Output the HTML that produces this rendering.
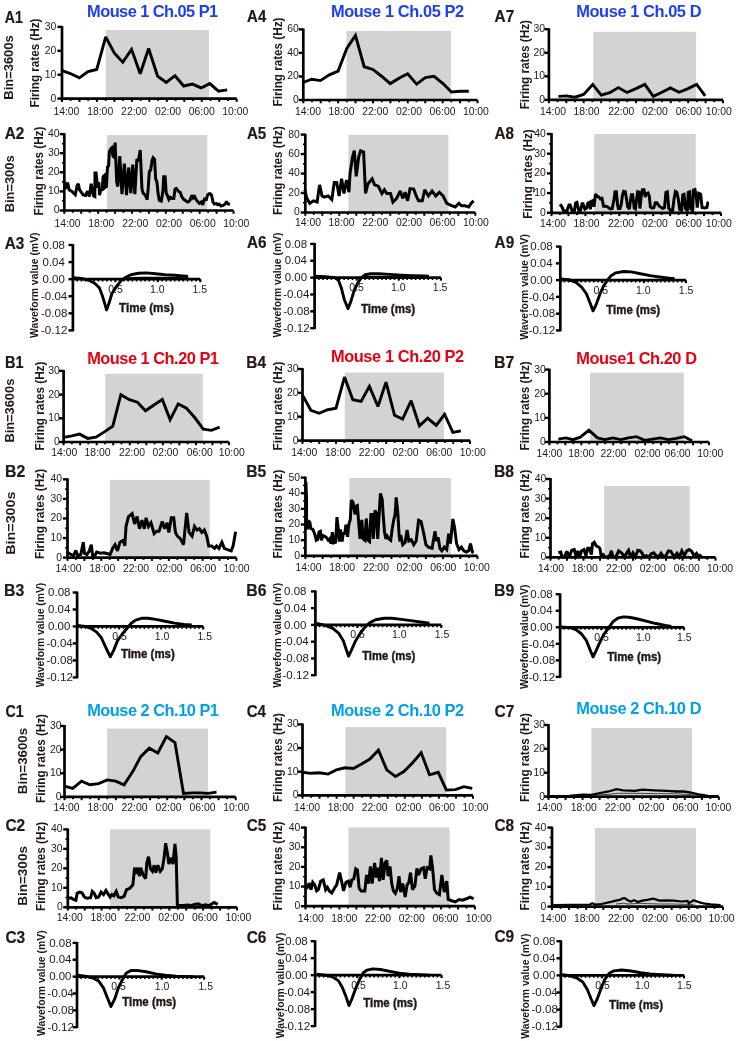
<!DOCTYPE html>
<html><head><meta charset="utf-8"><style>
html,body{margin:0;padding:0;background:#fff;font-family:'Liberation Sans',sans-serif;}
svg{display:block;will-change:transform;}
text{font-family:'Liberation Sans',sans-serif}
</style></head><body>
<svg width="736" height="1041" viewBox="0 0 736 1041">
<rect width="736" height="1041" fill="#fff"/>
<rect x="105.70" y="30.00" width="103.30" height="68.60" fill="#d3d3d3"/>
<line x1="62.00" y1="98.60" x2="62.00" y2="101.90" stroke="#000" stroke-width="2.00"/>
<line x1="70.73" y1="98.60" x2="70.73" y2="100.90" stroke="#000" stroke-width="1.90"/>
<line x1="79.47" y1="98.60" x2="79.47" y2="101.90" stroke="#000" stroke-width="2.00"/>
<line x1="88.20" y1="98.60" x2="88.20" y2="100.90" stroke="#000" stroke-width="1.90"/>
<line x1="96.94" y1="98.60" x2="96.94" y2="101.90" stroke="#000" stroke-width="2.00"/>
<line x1="105.67" y1="98.60" x2="105.67" y2="100.90" stroke="#000" stroke-width="1.90"/>
<line x1="114.41" y1="98.60" x2="114.41" y2="101.90" stroke="#000" stroke-width="2.00"/>
<line x1="123.14" y1="98.60" x2="123.14" y2="100.90" stroke="#000" stroke-width="1.90"/>
<line x1="131.88" y1="98.60" x2="131.88" y2="101.90" stroke="#000" stroke-width="2.00"/>
<line x1="140.62" y1="98.60" x2="140.62" y2="100.90" stroke="#000" stroke-width="1.90"/>
<line x1="149.35" y1="98.60" x2="149.35" y2="101.90" stroke="#000" stroke-width="2.00"/>
<line x1="158.08" y1="98.60" x2="158.08" y2="100.90" stroke="#000" stroke-width="1.90"/>
<line x1="166.82" y1="98.60" x2="166.82" y2="101.90" stroke="#000" stroke-width="2.00"/>
<line x1="175.56" y1="98.60" x2="175.56" y2="100.90" stroke="#000" stroke-width="1.90"/>
<line x1="184.29" y1="98.60" x2="184.29" y2="101.90" stroke="#000" stroke-width="2.00"/>
<line x1="193.03" y1="98.60" x2="193.03" y2="100.90" stroke="#000" stroke-width="1.90"/>
<line x1="201.76" y1="98.60" x2="201.76" y2="101.90" stroke="#000" stroke-width="2.00"/>
<line x1="210.49" y1="98.60" x2="210.49" y2="100.90" stroke="#000" stroke-width="1.90"/>
<line x1="219.23" y1="98.60" x2="219.23" y2="101.90" stroke="#000" stroke-width="2.00"/>
<line x1="227.96" y1="98.60" x2="227.96" y2="100.90" stroke="#000" stroke-width="1.90"/>
<line x1="236.70" y1="98.60" x2="236.70" y2="101.90" stroke="#000" stroke-width="2.00"/>
<line x1="57.40" y1="98.60" x2="62.00" y2="98.60" stroke="#000" stroke-width="2.40"/>
<text x="50.50" y="101.50" font-size="10.40"  fill="#231815">0</text>
<line x1="57.40" y1="74.70" x2="62.00" y2="74.70" stroke="#000" stroke-width="2.40"/>
<text x="44.70" y="77.60" font-size="10.40"  fill="#231815">10</text>
<line x1="57.40" y1="50.80" x2="62.00" y2="50.80" stroke="#000" stroke-width="2.40"/>
<text x="44.70" y="53.70" font-size="10.40"  fill="#231815">20</text>
<line x1="57.40" y1="26.90" x2="62.00" y2="26.90" stroke="#000" stroke-width="2.40"/>
<text x="44.70" y="29.80" font-size="10.40"  fill="#231815">30</text>
<line x1="62.00" y1="26.00" x2="62.00" y2="99.80" stroke="#000" stroke-width="2.70"/>
<line x1="60.80" y1="98.60" x2="236.70" y2="98.60" stroke="#000" stroke-width="2.70"/>
<text x="53.40" y="114.60" font-size="10.40"  fill="#231815">14:00</text>
<text x="87.18" y="114.60" font-size="10.40"  fill="#231815">18:00</text>
<text x="121.11" y="114.60" font-size="10.40"  fill="#231815">22:00</text>
<text x="154.94" y="114.60" font-size="10.40"  fill="#231815">02:00</text>
<text x="188.72" y="114.60" font-size="10.40"  fill="#231815">06:00</text>
<text x="222.30" y="114.60" font-size="10.40"  fill="#231815">10:00</text>
<polyline points="61.41,70.27 70.38,73.53 79.35,77.88 88.04,71.63 96.74,69.46 105.71,36.85 114.40,53.15 122.83,62.12 131.52,49.35 140.22,73.80 148.64,48.53 157.61,76.25 166.30,82.50 175.00,75.71 183.70,86.03 192.39,84.13 201.09,87.93 209.78,83.59 218.48,91.20 227.17,89.84" fill="none" stroke="#000" stroke-width="2.90" stroke-linejoin="miter" stroke-linecap="butt" stroke-miterlimit="2.5"/>
<text transform="translate(38.90 107.38) rotate(-90)" x="0" y="0" font-size="11.90" font-weight="bold" fill="#231815" textLength="88.75" lengthAdjust="spacingAndGlyphs">Firing rates (Hz)</text>
<rect x="346.50" y="30.90" width="104.50" height="69.10" fill="#d3d3d3"/>
<line x1="303.30" y1="100.00" x2="303.30" y2="103.30" stroke="#000" stroke-width="2.00"/>
<line x1="312.01" y1="100.00" x2="312.01" y2="102.30" stroke="#000" stroke-width="1.90"/>
<line x1="320.72" y1="100.00" x2="320.72" y2="103.30" stroke="#000" stroke-width="2.00"/>
<line x1="329.43" y1="100.00" x2="329.43" y2="102.30" stroke="#000" stroke-width="1.90"/>
<line x1="338.14" y1="100.00" x2="338.14" y2="103.30" stroke="#000" stroke-width="2.00"/>
<line x1="346.85" y1="100.00" x2="346.85" y2="102.30" stroke="#000" stroke-width="1.90"/>
<line x1="355.56" y1="100.00" x2="355.56" y2="103.30" stroke="#000" stroke-width="2.00"/>
<line x1="364.27" y1="100.00" x2="364.27" y2="102.30" stroke="#000" stroke-width="1.90"/>
<line x1="372.98" y1="100.00" x2="372.98" y2="103.30" stroke="#000" stroke-width="2.00"/>
<line x1="381.69" y1="100.00" x2="381.69" y2="102.30" stroke="#000" stroke-width="1.90"/>
<line x1="390.40" y1="100.00" x2="390.40" y2="103.30" stroke="#000" stroke-width="2.00"/>
<line x1="399.11" y1="100.00" x2="399.11" y2="102.30" stroke="#000" stroke-width="1.90"/>
<line x1="407.82" y1="100.00" x2="407.82" y2="103.30" stroke="#000" stroke-width="2.00"/>
<line x1="416.53" y1="100.00" x2="416.53" y2="102.30" stroke="#000" stroke-width="1.90"/>
<line x1="425.24" y1="100.00" x2="425.24" y2="103.30" stroke="#000" stroke-width="2.00"/>
<line x1="433.95" y1="100.00" x2="433.95" y2="102.30" stroke="#000" stroke-width="1.90"/>
<line x1="442.66" y1="100.00" x2="442.66" y2="103.30" stroke="#000" stroke-width="2.00"/>
<line x1="451.37" y1="100.00" x2="451.37" y2="102.30" stroke="#000" stroke-width="1.90"/>
<line x1="460.08" y1="100.00" x2="460.08" y2="103.30" stroke="#000" stroke-width="2.00"/>
<line x1="468.79" y1="100.00" x2="468.79" y2="102.30" stroke="#000" stroke-width="1.90"/>
<line x1="477.50" y1="100.00" x2="477.50" y2="103.30" stroke="#000" stroke-width="2.00"/>
<line x1="298.70" y1="100.00" x2="303.30" y2="100.00" stroke="#000" stroke-width="2.40"/>
<text x="293.10" y="102.90" font-size="10.40"  fill="#231815">0</text>
<line x1="298.70" y1="76.47" x2="303.30" y2="76.47" stroke="#000" stroke-width="2.40"/>
<text x="287.30" y="79.37" font-size="10.40"  fill="#231815">20</text>
<line x1="298.70" y1="52.93" x2="303.30" y2="52.93" stroke="#000" stroke-width="2.40"/>
<text x="287.30" y="55.83" font-size="10.40"  fill="#231815">40</text>
<line x1="298.70" y1="29.40" x2="303.30" y2="29.40" stroke="#000" stroke-width="2.40"/>
<text x="287.30" y="32.30" font-size="10.40"  fill="#231815">60</text>
<line x1="303.30" y1="28.50" x2="303.30" y2="101.20" stroke="#000" stroke-width="2.70"/>
<line x1="302.10" y1="100.00" x2="477.50" y2="100.00" stroke="#000" stroke-width="2.70"/>
<text x="295.00" y="114.60" font-size="10.40"  fill="#231815">14:00</text>
<text x="328.58" y="114.60" font-size="10.40"  fill="#231815">18:00</text>
<text x="362.31" y="114.60" font-size="10.40"  fill="#231815">22:00</text>
<text x="395.94" y="114.60" font-size="10.40"  fill="#231815">02:00</text>
<text x="429.52" y="114.60" font-size="10.40"  fill="#231815">06:00</text>
<text x="462.90" y="114.60" font-size="10.40"  fill="#231815">10:00</text>
<polyline points="303.04,82.50 311.74,79.24 320.43,80.60 329.40,74.89 338.10,71.09 346.79,48.53 355.49,35.49 364.18,66.74 372.88,69.46 381.58,76.25 390.27,83.59 398.97,78.15 407.66,73.80 416.63,84.13 425.33,77.61 434.02,76.25 442.72,83.32 451.41,92.01 460.11,91.20 468.80,91.20" fill="none" stroke="#000" stroke-width="2.90" stroke-linejoin="miter" stroke-linecap="butt" stroke-miterlimit="2.5"/>
<text transform="translate(281.80 106.48) rotate(-90)" x="0" y="0" font-size="11.90" font-weight="bold" fill="#231815" textLength="88.85" lengthAdjust="spacingAndGlyphs">Firing rates (Hz)</text>
<rect x="593.20" y="31.80" width="102.90" height="68.10" fill="#d3d3d3"/>
<line x1="548.90" y1="99.90" x2="548.90" y2="103.20" stroke="#000" stroke-width="2.00"/>
<line x1="557.61" y1="99.90" x2="557.61" y2="102.20" stroke="#000" stroke-width="1.90"/>
<line x1="566.31" y1="99.90" x2="566.31" y2="103.20" stroke="#000" stroke-width="2.00"/>
<line x1="575.01" y1="99.90" x2="575.01" y2="102.20" stroke="#000" stroke-width="1.90"/>
<line x1="583.72" y1="99.90" x2="583.72" y2="103.20" stroke="#000" stroke-width="2.00"/>
<line x1="592.42" y1="99.90" x2="592.42" y2="102.20" stroke="#000" stroke-width="1.90"/>
<line x1="601.13" y1="99.90" x2="601.13" y2="103.20" stroke="#000" stroke-width="2.00"/>
<line x1="609.84" y1="99.90" x2="609.84" y2="102.20" stroke="#000" stroke-width="1.90"/>
<line x1="618.54" y1="99.90" x2="618.54" y2="103.20" stroke="#000" stroke-width="2.00"/>
<line x1="627.25" y1="99.90" x2="627.25" y2="102.20" stroke="#000" stroke-width="1.90"/>
<line x1="635.95" y1="99.90" x2="635.95" y2="103.20" stroke="#000" stroke-width="2.00"/>
<line x1="644.65" y1="99.90" x2="644.65" y2="102.20" stroke="#000" stroke-width="1.90"/>
<line x1="653.36" y1="99.90" x2="653.36" y2="103.20" stroke="#000" stroke-width="2.00"/>
<line x1="662.06" y1="99.90" x2="662.06" y2="102.20" stroke="#000" stroke-width="1.90"/>
<line x1="670.77" y1="99.90" x2="670.77" y2="103.20" stroke="#000" stroke-width="2.00"/>
<line x1="679.48" y1="99.90" x2="679.48" y2="102.20" stroke="#000" stroke-width="1.90"/>
<line x1="688.18" y1="99.90" x2="688.18" y2="103.20" stroke="#000" stroke-width="2.00"/>
<line x1="696.88" y1="99.90" x2="696.88" y2="102.20" stroke="#000" stroke-width="1.90"/>
<line x1="705.59" y1="99.90" x2="705.59" y2="103.20" stroke="#000" stroke-width="2.00"/>
<line x1="714.30" y1="99.90" x2="714.30" y2="102.20" stroke="#000" stroke-width="1.90"/>
<line x1="723.00" y1="99.90" x2="723.00" y2="103.20" stroke="#000" stroke-width="2.00"/>
<line x1="544.30" y1="99.90" x2="548.90" y2="99.90" stroke="#000" stroke-width="2.40"/>
<text x="539.20" y="102.80" font-size="10.40"  fill="#231815">0</text>
<line x1="544.30" y1="76.33" x2="548.90" y2="76.33" stroke="#000" stroke-width="2.40"/>
<text x="533.40" y="79.23" font-size="10.40"  fill="#231815">10</text>
<line x1="544.30" y1="52.77" x2="548.90" y2="52.77" stroke="#000" stroke-width="2.40"/>
<text x="533.40" y="55.67" font-size="10.40"  fill="#231815">20</text>
<line x1="544.30" y1="29.20" x2="548.90" y2="29.20" stroke="#000" stroke-width="2.40"/>
<text x="533.40" y="32.10" font-size="10.40"  fill="#231815">30</text>
<line x1="548.90" y1="28.30" x2="548.90" y2="101.10" stroke="#000" stroke-width="2.70"/>
<line x1="547.70" y1="99.90" x2="723.00" y2="99.90" stroke="#000" stroke-width="2.70"/>
<text x="540.00" y="114.60" font-size="10.40"  fill="#231815">14:00</text>
<text x="573.60" y="114.60" font-size="10.40"  fill="#231815">18:00</text>
<text x="608.25" y="114.60" font-size="10.40"  fill="#231815">22:00</text>
<text x="641.90" y="114.60" font-size="10.40"  fill="#231815">02:00</text>
<text x="675.70" y="114.60" font-size="10.40"  fill="#231815">06:00</text>
<text x="705.70" y="114.60" font-size="10.40"  fill="#231815">10:00</text>
<polyline points="558.45,96.41 566.52,95.92 574.84,97.15 583.64,94.46 592.69,84.43 601.25,95.19 609.81,92.74 618.37,87.61 626.93,92.50 635.98,88.59 644.78,84.43 653.34,96.41 661.90,92.26 670.46,87.85 679.02,92.26 688.07,88.59 696.63,84.43 705.19,95.92" fill="none" stroke="#000" stroke-width="2.90" stroke-linejoin="miter" stroke-linecap="butt" stroke-miterlimit="2.5"/>
<text transform="translate(528.70 109.29) rotate(-90)" x="0" y="0" font-size="11.90" font-weight="bold" fill="#231815" textLength="89.26" lengthAdjust="spacingAndGlyphs">Firing rates (Hz)</text>
<rect x="107.10" y="135.10" width="100.10" height="75.40" fill="#d3d3d3"/>
<line x1="64.30" y1="210.50" x2="64.30" y2="213.80" stroke="#000" stroke-width="2.00"/>
<line x1="72.76" y1="210.50" x2="72.76" y2="212.80" stroke="#000" stroke-width="1.90"/>
<line x1="81.22" y1="210.50" x2="81.22" y2="213.80" stroke="#000" stroke-width="2.00"/>
<line x1="89.68" y1="210.50" x2="89.68" y2="212.80" stroke="#000" stroke-width="1.90"/>
<line x1="98.14" y1="210.50" x2="98.14" y2="213.80" stroke="#000" stroke-width="2.00"/>
<line x1="106.60" y1="210.50" x2="106.60" y2="212.80" stroke="#000" stroke-width="1.90"/>
<line x1="115.06" y1="210.50" x2="115.06" y2="213.80" stroke="#000" stroke-width="2.00"/>
<line x1="123.52" y1="210.50" x2="123.52" y2="212.80" stroke="#000" stroke-width="1.90"/>
<line x1="131.98" y1="210.50" x2="131.98" y2="213.80" stroke="#000" stroke-width="2.00"/>
<line x1="140.44" y1="210.50" x2="140.44" y2="212.80" stroke="#000" stroke-width="1.90"/>
<line x1="148.90" y1="210.50" x2="148.90" y2="213.80" stroke="#000" stroke-width="2.00"/>
<line x1="157.36" y1="210.50" x2="157.36" y2="212.80" stroke="#000" stroke-width="1.90"/>
<line x1="165.82" y1="210.50" x2="165.82" y2="213.80" stroke="#000" stroke-width="2.00"/>
<line x1="174.28" y1="210.50" x2="174.28" y2="212.80" stroke="#000" stroke-width="1.90"/>
<line x1="182.74" y1="210.50" x2="182.74" y2="213.80" stroke="#000" stroke-width="2.00"/>
<line x1="191.20" y1="210.50" x2="191.20" y2="212.80" stroke="#000" stroke-width="1.90"/>
<line x1="199.66" y1="210.50" x2="199.66" y2="213.80" stroke="#000" stroke-width="2.00"/>
<line x1="208.12" y1="210.50" x2="208.12" y2="212.80" stroke="#000" stroke-width="1.90"/>
<line x1="216.58" y1="210.50" x2="216.58" y2="213.80" stroke="#000" stroke-width="2.00"/>
<line x1="225.04" y1="210.50" x2="225.04" y2="212.80" stroke="#000" stroke-width="1.90"/>
<line x1="233.50" y1="210.50" x2="233.50" y2="213.80" stroke="#000" stroke-width="2.00"/>
<line x1="59.70" y1="210.50" x2="64.30" y2="210.50" stroke="#000" stroke-width="2.40"/>
<text x="53.80" y="213.40" font-size="10.40"  fill="#231815">0</text>
<line x1="61.90" y1="200.95" x2="64.30" y2="200.95" stroke="#000" stroke-width="1.60"/>
<line x1="59.70" y1="191.40" x2="64.30" y2="191.40" stroke="#000" stroke-width="2.40"/>
<text x="48.00" y="194.30" font-size="10.40"  fill="#231815">10</text>
<line x1="61.90" y1="181.85" x2="64.30" y2="181.85" stroke="#000" stroke-width="1.60"/>
<line x1="59.70" y1="172.30" x2="64.30" y2="172.30" stroke="#000" stroke-width="2.40"/>
<text x="48.00" y="175.20" font-size="10.40"  fill="#231815">20</text>
<line x1="61.90" y1="162.75" x2="64.30" y2="162.75" stroke="#000" stroke-width="1.60"/>
<line x1="59.70" y1="153.20" x2="64.30" y2="153.20" stroke="#000" stroke-width="2.40"/>
<text x="48.00" y="156.10" font-size="10.40"  fill="#231815">30</text>
<line x1="61.90" y1="143.65" x2="64.30" y2="143.65" stroke="#000" stroke-width="1.60"/>
<line x1="59.70" y1="134.10" x2="64.30" y2="134.10" stroke="#000" stroke-width="2.40"/>
<text x="48.00" y="137.00" font-size="10.40"  fill="#231815">40</text>
<line x1="64.30" y1="133.20" x2="64.30" y2="211.70" stroke="#000" stroke-width="2.70"/>
<line x1="63.10" y1="210.50" x2="233.50" y2="210.50" stroke="#000" stroke-width="2.70"/>
<text x="54.60" y="227.10" font-size="10.40"  fill="#231815">14:00</text>
<text x="88.32" y="227.10" font-size="10.40"  fill="#231815">18:00</text>
<text x="122.19" y="227.10" font-size="10.40"  fill="#231815">22:00</text>
<text x="155.96" y="227.10" font-size="10.40"  fill="#231815">02:00</text>
<text x="189.68" y="227.10" font-size="10.40"  fill="#231815">06:00</text>
<text x="223.20" y="227.10" font-size="10.40"  fill="#231815">10:00</text>
<polyline points="64.65,181.36 65.50,188.70 67.58,182.58 69.17,189.92 71.62,191.14 73.45,192.98 75.29,194.81 77.12,185.64 78.34,183.80 79.57,189.92 81.40,192.36 83.23,194.81 85.68,195.42 87.51,191.14 89.35,196.64 91.18,183.80 92.40,191.14 93.63,196.03 94.85,196.64 95.00,172.93 96.09,172.93 96.96,181.09 97.72,187.61 98.80,182.17 99.57,195.22 100.98,188.70 102.07,190.87 103.15,176.74 104.24,175.65 105.00,187.61 106.41,186.52 107.50,166.96 108.59,165.87 109.35,151.74 110.76,149.02 111.85,147.93 112.93,156.09 114.02,157.17 115.11,142.50 116.74,182.17 117.83,186.52 119.78,156.09 121.96,194.13 124.35,163.70 126.52,195.22 128.70,167.50 130.87,193.04 132.72,164.57 134.89,194.13 136.85,159.13 138.26,161.52 140.22,150.11 141.96,188.70 143.04,193.04 144.13,194.13 145.54,195.76 147.17,199.57 148.26,187.61 149.35,171.30 150.65,170.22 152.07,160.43 153.15,157.72 154.57,159.35 155.65,178.91 156.96,182.17 158.04,193.04 159.35,200.65 161.30,201.20 162.93,190.87 163.70,176.74 165.11,176.74 166.20,193.04 167.28,195.22 168.91,199.57 170.54,197.39 172.17,198.48 173.80,198.48 175.00,189.24 176.25,188.42 178.29,191.14 180.33,192.50 181.68,196.58 183.72,199.29 185.76,200.65 187.80,202.01 189.84,200.65 191.88,195.22 193.23,197.93 194.59,196.58 195.95,199.29 197.99,202.01 199.35,203.37 201.39,202.01 202.74,204.73 204.78,197.93 206.14,200.65 207.50,195.22 208.86,193.86 210.22,193.86 211.58,195.22 212.93,202.01 214.29,204.05 216.33,203.37 217.69,204.73 219.05,204.05 221.09,206.09 223.12,205.41 225.16,204.05 226.52,201.33 227.20,203.37 228.56,204.05 229.92,204.46" fill="none" stroke="#000" stroke-width="3.00" stroke-linejoin="miter" stroke-linecap="butt" stroke-miterlimit="2.5"/>
<text transform="translate(42.90 215.48) rotate(-90)" x="0" y="0" font-size="11.90" font-weight="bold" fill="#231815" textLength="88.75" lengthAdjust="spacingAndGlyphs">Firing rates (Hz)</text>
<rect x="348.40" y="134.80" width="100.00" height="77.70" fill="#d3d3d3"/>
<line x1="305.30" y1="212.50" x2="305.30" y2="215.80" stroke="#000" stroke-width="2.00"/>
<line x1="313.80" y1="212.50" x2="313.80" y2="214.80" stroke="#000" stroke-width="1.90"/>
<line x1="322.30" y1="212.50" x2="322.30" y2="215.80" stroke="#000" stroke-width="2.00"/>
<line x1="330.80" y1="212.50" x2="330.80" y2="214.80" stroke="#000" stroke-width="1.90"/>
<line x1="339.30" y1="212.50" x2="339.30" y2="215.80" stroke="#000" stroke-width="2.00"/>
<line x1="347.80" y1="212.50" x2="347.80" y2="214.80" stroke="#000" stroke-width="1.90"/>
<line x1="356.30" y1="212.50" x2="356.30" y2="215.80" stroke="#000" stroke-width="2.00"/>
<line x1="364.80" y1="212.50" x2="364.80" y2="214.80" stroke="#000" stroke-width="1.90"/>
<line x1="373.30" y1="212.50" x2="373.30" y2="215.80" stroke="#000" stroke-width="2.00"/>
<line x1="381.80" y1="212.50" x2="381.80" y2="214.80" stroke="#000" stroke-width="1.90"/>
<line x1="390.30" y1="212.50" x2="390.30" y2="215.80" stroke="#000" stroke-width="2.00"/>
<line x1="398.80" y1="212.50" x2="398.80" y2="214.80" stroke="#000" stroke-width="1.90"/>
<line x1="407.30" y1="212.50" x2="407.30" y2="215.80" stroke="#000" stroke-width="2.00"/>
<line x1="415.80" y1="212.50" x2="415.80" y2="214.80" stroke="#000" stroke-width="1.90"/>
<line x1="424.30" y1="212.50" x2="424.30" y2="215.80" stroke="#000" stroke-width="2.00"/>
<line x1="432.80" y1="212.50" x2="432.80" y2="214.80" stroke="#000" stroke-width="1.90"/>
<line x1="441.30" y1="212.50" x2="441.30" y2="215.80" stroke="#000" stroke-width="2.00"/>
<line x1="449.80" y1="212.50" x2="449.80" y2="214.80" stroke="#000" stroke-width="1.90"/>
<line x1="458.30" y1="212.50" x2="458.30" y2="215.80" stroke="#000" stroke-width="2.00"/>
<line x1="466.80" y1="212.50" x2="466.80" y2="214.80" stroke="#000" stroke-width="1.90"/>
<line x1="475.30" y1="212.50" x2="475.30" y2="215.80" stroke="#000" stroke-width="2.00"/>
<line x1="300.70" y1="212.50" x2="305.30" y2="212.50" stroke="#000" stroke-width="2.40"/>
<text x="294.10" y="215.40" font-size="10.40"  fill="#231815">0</text>
<line x1="302.90" y1="202.76" x2="305.30" y2="202.76" stroke="#000" stroke-width="1.60"/>
<line x1="300.70" y1="193.03" x2="305.30" y2="193.03" stroke="#000" stroke-width="2.40"/>
<text x="288.30" y="195.93" font-size="10.40"  fill="#231815">20</text>
<line x1="302.90" y1="183.29" x2="305.30" y2="183.29" stroke="#000" stroke-width="1.60"/>
<line x1="300.70" y1="173.55" x2="305.30" y2="173.55" stroke="#000" stroke-width="2.40"/>
<text x="288.30" y="176.45" font-size="10.40"  fill="#231815">40</text>
<line x1="302.90" y1="163.81" x2="305.30" y2="163.81" stroke="#000" stroke-width="1.60"/>
<line x1="300.70" y1="154.07" x2="305.30" y2="154.07" stroke="#000" stroke-width="2.40"/>
<text x="288.30" y="156.97" font-size="10.40"  fill="#231815">60</text>
<line x1="302.90" y1="144.34" x2="305.30" y2="144.34" stroke="#000" stroke-width="1.60"/>
<line x1="300.70" y1="134.60" x2="305.30" y2="134.60" stroke="#000" stroke-width="2.40"/>
<text x="288.30" y="137.50" font-size="10.40"  fill="#231815">80</text>
<line x1="305.30" y1="133.70" x2="305.30" y2="213.70" stroke="#000" stroke-width="2.70"/>
<line x1="304.10" y1="212.50" x2="475.30" y2="212.50" stroke="#000" stroke-width="2.70"/>
<text x="295.00" y="226.40" font-size="10.40"  fill="#231815">14:00</text>
<text x="328.58" y="226.40" font-size="10.40"  fill="#231815">18:00</text>
<text x="362.31" y="226.40" font-size="10.40"  fill="#231815">22:00</text>
<text x="395.94" y="226.40" font-size="10.40"  fill="#231815">02:00</text>
<text x="429.52" y="226.40" font-size="10.40"  fill="#231815">06:00</text>
<text x="462.90" y="226.40" font-size="10.40"  fill="#231815">10:00</text>
<polyline points="304.89,189.81 306.85,198.37 309.78,203.26 313.45,200.82 317.12,202.04 319.57,184.92 322.01,195.92 324.46,197.15 328.12,195.92 331.79,199.59 334.24,182.47 336.68,182.47 339.13,195.92 341.58,178.80 344.02,193.48 346.47,180.03 348.91,192.26 350.14,172.69 352.58,156.79 354.29,150.68 356.25,176.36 358.70,156.79 360.65,150.68 363.59,151.90 365.54,193.48 367.99,183.70 372.15,178.80 374.59,184.92 378.26,186.14 381.93,193.48 384.38,189.81 386.82,193.48 390.49,193.48 392.93,202.04 396.60,198.37 400.27,191.03 402.72,198.37 405.16,192.26 407.61,200.82 410.05,188.59 413.72,189.08 416.17,195.92 418.61,200.82 422.28,200.82 424.73,189.81 428.40,195.92 432.07,191.03 435.73,195.92 439.40,192.26 443.07,195.92 446.74,203.26 451.63,205.71 455.30,206.93 458.97,203.26 461.41,205.71 465.08,205.71 468.75,206.93 471.20,203.26 473.64,200.82" fill="none" stroke="#000" stroke-width="3.00" stroke-linejoin="miter" stroke-linecap="butt" stroke-miterlimit="2.5"/>
<text transform="translate(282.30 214.98) rotate(-90)" x="0" y="0" font-size="11.90" font-weight="bold" fill="#231815" textLength="88.75" lengthAdjust="spacingAndGlyphs">Firing rates (Hz)</text>
<rect x="594.20" y="134.00" width="101.50" height="78.80" fill="#d3d3d3"/>
<line x1="551.50" y1="212.80" x2="551.50" y2="216.10" stroke="#000" stroke-width="2.00"/>
<line x1="559.98" y1="212.80" x2="559.98" y2="215.10" stroke="#000" stroke-width="1.90"/>
<line x1="568.45" y1="212.80" x2="568.45" y2="216.10" stroke="#000" stroke-width="2.00"/>
<line x1="576.92" y1="212.80" x2="576.92" y2="215.10" stroke="#000" stroke-width="1.90"/>
<line x1="585.40" y1="212.80" x2="585.40" y2="216.10" stroke="#000" stroke-width="2.00"/>
<line x1="593.88" y1="212.80" x2="593.88" y2="215.10" stroke="#000" stroke-width="1.90"/>
<line x1="602.35" y1="212.80" x2="602.35" y2="216.10" stroke="#000" stroke-width="2.00"/>
<line x1="610.83" y1="212.80" x2="610.83" y2="215.10" stroke="#000" stroke-width="1.90"/>
<line x1="619.30" y1="212.80" x2="619.30" y2="216.10" stroke="#000" stroke-width="2.00"/>
<line x1="627.77" y1="212.80" x2="627.77" y2="215.10" stroke="#000" stroke-width="1.90"/>
<line x1="636.25" y1="212.80" x2="636.25" y2="216.10" stroke="#000" stroke-width="2.00"/>
<line x1="644.73" y1="212.80" x2="644.73" y2="215.10" stroke="#000" stroke-width="1.90"/>
<line x1="653.20" y1="212.80" x2="653.20" y2="216.10" stroke="#000" stroke-width="2.00"/>
<line x1="661.67" y1="212.80" x2="661.67" y2="215.10" stroke="#000" stroke-width="1.90"/>
<line x1="670.15" y1="212.80" x2="670.15" y2="216.10" stroke="#000" stroke-width="2.00"/>
<line x1="678.62" y1="212.80" x2="678.62" y2="215.10" stroke="#000" stroke-width="1.90"/>
<line x1="687.10" y1="212.80" x2="687.10" y2="216.10" stroke="#000" stroke-width="2.00"/>
<line x1="695.58" y1="212.80" x2="695.58" y2="215.10" stroke="#000" stroke-width="1.90"/>
<line x1="704.05" y1="212.80" x2="704.05" y2="216.10" stroke="#000" stroke-width="2.00"/>
<line x1="712.52" y1="212.80" x2="712.52" y2="215.10" stroke="#000" stroke-width="1.90"/>
<line x1="721.00" y1="212.80" x2="721.00" y2="216.10" stroke="#000" stroke-width="2.00"/>
<line x1="546.90" y1="212.80" x2="551.50" y2="212.80" stroke="#000" stroke-width="2.40"/>
<text x="540.10" y="215.70" font-size="10.40"  fill="#231815">0</text>
<line x1="549.10" y1="202.95" x2="551.50" y2="202.95" stroke="#000" stroke-width="1.60"/>
<line x1="546.90" y1="193.10" x2="551.50" y2="193.10" stroke="#000" stroke-width="2.40"/>
<text x="534.30" y="196.00" font-size="10.40"  fill="#231815">10</text>
<line x1="549.10" y1="183.25" x2="551.50" y2="183.25" stroke="#000" stroke-width="1.60"/>
<line x1="546.90" y1="173.40" x2="551.50" y2="173.40" stroke="#000" stroke-width="2.40"/>
<text x="534.30" y="176.30" font-size="10.40"  fill="#231815">20</text>
<line x1="549.10" y1="163.55" x2="551.50" y2="163.55" stroke="#000" stroke-width="1.60"/>
<line x1="546.90" y1="153.70" x2="551.50" y2="153.70" stroke="#000" stroke-width="2.40"/>
<text x="534.30" y="156.60" font-size="10.40"  fill="#231815">30</text>
<line x1="549.10" y1="143.85" x2="551.50" y2="143.85" stroke="#000" stroke-width="1.60"/>
<line x1="546.90" y1="134.00" x2="551.50" y2="134.00" stroke="#000" stroke-width="2.40"/>
<text x="534.30" y="136.90" font-size="10.40"  fill="#231815">40</text>
<line x1="551.50" y1="133.10" x2="551.50" y2="214.00" stroke="#000" stroke-width="2.70"/>
<line x1="550.30" y1="212.80" x2="721.00" y2="212.80" stroke="#000" stroke-width="2.70"/>
<text x="540.00" y="226.80" font-size="10.40"  fill="#231815">14:00</text>
<text x="573.60" y="226.80" font-size="10.40"  fill="#231815">18:00</text>
<text x="607.95" y="226.80" font-size="10.40"  fill="#231815">22:00</text>
<text x="641.90" y="226.80" font-size="10.40"  fill="#231815">02:00</text>
<text x="675.70" y="226.80" font-size="10.40"  fill="#231815">06:00</text>
<text x="705.70" y="226.80" font-size="10.40"  fill="#231815">10:00</text>
<polyline points="559.78,204.35 561.62,206.18 563.45,210.46 565.29,211.07 567.12,210.46 568.95,204.96 570.18,204.96 572.01,210.46 574.46,210.46 575.68,203.12 576.90,202.51 578.74,210.46 580.57,210.46 582.04,203.74 583.02,203.74 584.85,209.24 586.68,208.02 587.91,203.12 589.13,202.51 590.35,209.24 591.58,201.29 592.80,200.68 594.02,206.79 595.49,193.95 597.08,196.40 598.91,197.01 600.38,198.85 601.97,198.23 603.56,206.18 605.64,206.18 607.47,206.79 609.92,208.63 611.01,208.94 612.23,208.53 613.86,200.38 615.08,191.82 616.30,191.82 617.53,204.46 618.34,208.53 619.97,208.53 621.20,204.46 622.42,195.49 623.64,191.41 625.27,191.82 626.49,198.75 627.72,206.90 629.35,208.94 630.57,200.38 631.39,194.67 632.61,194.67 633.42,200.38 634.24,208.12 635.46,208.94 636.52,199.57 637.66,191.82 638.97,192.23 639.95,208.53 641.17,196.30 642.39,189.78 644.02,189.78 645.24,197.12 646.06,193.86 648.10,193.04 649.32,196.30 650.38,206.90 652.17,208.12 653.80,207.72 655.27,202.83 656.90,202.83 658.80,205.68 660.71,207.11 662.61,208.53 664.51,207.58 665.94,192.36 667.36,191.89 668.79,208.53 670.69,210.43 672.60,210.43 674.02,199.02 675.45,191.41 676.88,192.36 678.30,199.02 679.73,209.48 681.63,210.43 682.77,194.74 684.01,194.27 685.43,208.53 687.34,210.43 688.29,192.36 689.71,191.89 690.67,208.53 692.57,210.43 693.52,189.99 694.95,189.51 696.37,197.12 697.32,207.58 698.75,193.32 700.65,194.27 702.08,207.58 704.46,208.06 706.83,207.58 707.79,202.83 708.74,202.35" fill="none" stroke="#000" stroke-width="3.00" stroke-linejoin="miter" stroke-linecap="butt" stroke-miterlimit="2.5"/>
<text transform="translate(531.50 218.69) rotate(-90)" x="0" y="0" font-size="11.90" font-weight="bold" fill="#231815" textLength="89.46" lengthAdjust="spacingAndGlyphs">Firing rates (Hz)</text>
<rect x="105.20" y="373.80" width="97.60" height="68.20" fill="#d3d3d3"/>
<line x1="63.60" y1="442.00" x2="63.60" y2="445.30" stroke="#000" stroke-width="2.00"/>
<line x1="71.87" y1="442.00" x2="71.87" y2="444.30" stroke="#000" stroke-width="1.90"/>
<line x1="80.14" y1="442.00" x2="80.14" y2="445.30" stroke="#000" stroke-width="2.00"/>
<line x1="88.41" y1="442.00" x2="88.41" y2="444.30" stroke="#000" stroke-width="1.90"/>
<line x1="96.68" y1="442.00" x2="96.68" y2="445.30" stroke="#000" stroke-width="2.00"/>
<line x1="104.95" y1="442.00" x2="104.95" y2="444.30" stroke="#000" stroke-width="1.90"/>
<line x1="113.22" y1="442.00" x2="113.22" y2="445.30" stroke="#000" stroke-width="2.00"/>
<line x1="121.49" y1="442.00" x2="121.49" y2="444.30" stroke="#000" stroke-width="1.90"/>
<line x1="129.76" y1="442.00" x2="129.76" y2="445.30" stroke="#000" stroke-width="2.00"/>
<line x1="138.03" y1="442.00" x2="138.03" y2="444.30" stroke="#000" stroke-width="1.90"/>
<line x1="146.30" y1="442.00" x2="146.30" y2="445.30" stroke="#000" stroke-width="2.00"/>
<line x1="154.57" y1="442.00" x2="154.57" y2="444.30" stroke="#000" stroke-width="1.90"/>
<line x1="162.84" y1="442.00" x2="162.84" y2="445.30" stroke="#000" stroke-width="2.00"/>
<line x1="171.11" y1="442.00" x2="171.11" y2="444.30" stroke="#000" stroke-width="1.90"/>
<line x1="179.38" y1="442.00" x2="179.38" y2="445.30" stroke="#000" stroke-width="2.00"/>
<line x1="187.65" y1="442.00" x2="187.65" y2="444.30" stroke="#000" stroke-width="1.90"/>
<line x1="195.92" y1="442.00" x2="195.92" y2="445.30" stroke="#000" stroke-width="2.00"/>
<line x1="204.19" y1="442.00" x2="204.19" y2="444.30" stroke="#000" stroke-width="1.90"/>
<line x1="212.46" y1="442.00" x2="212.46" y2="445.30" stroke="#000" stroke-width="2.00"/>
<line x1="220.73" y1="442.00" x2="220.73" y2="444.30" stroke="#000" stroke-width="1.90"/>
<line x1="229.00" y1="442.00" x2="229.00" y2="445.30" stroke="#000" stroke-width="2.00"/>
<line x1="59.00" y1="442.00" x2="63.60" y2="442.00" stroke="#000" stroke-width="2.40"/>
<text x="54.10" y="444.90" font-size="10.40"  fill="#231815">0</text>
<line x1="59.00" y1="418.30" x2="63.60" y2="418.30" stroke="#000" stroke-width="2.40"/>
<text x="48.30" y="421.20" font-size="10.40"  fill="#231815">10</text>
<line x1="59.00" y1="394.60" x2="63.60" y2="394.60" stroke="#000" stroke-width="2.40"/>
<text x="48.30" y="397.50" font-size="10.40"  fill="#231815">20</text>
<line x1="59.00" y1="370.90" x2="63.60" y2="370.90" stroke="#000" stroke-width="2.40"/>
<text x="48.30" y="373.80" font-size="10.40"  fill="#231815">30</text>
<line x1="63.60" y1="370.00" x2="63.60" y2="443.20" stroke="#000" stroke-width="2.70"/>
<line x1="62.40" y1="442.00" x2="229.00" y2="442.00" stroke="#000" stroke-width="2.70"/>
<text x="51.30" y="456.10" font-size="10.40"  fill="#231815">14:00</text>
<text x="84.60" y="456.10" font-size="10.40"  fill="#231815">18:00</text>
<text x="118.95" y="456.10" font-size="10.40"  fill="#231815">22:00</text>
<text x="152.40" y="456.10" font-size="10.40"  fill="#231815">02:00</text>
<text x="186.80" y="456.10" font-size="10.40"  fill="#231815">06:00</text>
<text x="218.70" y="456.10" font-size="10.40"  fill="#231815">10:00</text>
<polyline points="63.80,437.39 71.84,435.88 79.63,434.12 87.68,438.40 95.97,437.14 104.77,431.61 112.81,426.08 120.86,394.66 129.40,399.69 137.45,402.20 145.49,410.75 154.29,404.71 162.33,399.44 170.12,419.80 178.17,403.96 186.46,408.23 194.50,417.28 203.30,429.10 211.35,430.35 219.64,427.09" fill="none" stroke="#000" stroke-width="2.90" stroke-linejoin="miter" stroke-linecap="butt" stroke-miterlimit="2.5"/>
<text transform="translate(43.90 450.48) rotate(-90)" x="0" y="0" font-size="11.90" font-weight="bold" fill="#231815" textLength="88.75" lengthAdjust="spacingAndGlyphs">Firing rates (Hz)</text>
<rect x="344.80" y="372.50" width="99.20" height="68.10" fill="#d3d3d3"/>
<line x1="302.50" y1="440.60" x2="302.50" y2="443.90" stroke="#000" stroke-width="2.00"/>
<line x1="310.88" y1="440.60" x2="310.88" y2="442.90" stroke="#000" stroke-width="1.90"/>
<line x1="319.25" y1="440.60" x2="319.25" y2="443.90" stroke="#000" stroke-width="2.00"/>
<line x1="327.62" y1="440.60" x2="327.62" y2="442.90" stroke="#000" stroke-width="1.90"/>
<line x1="336.00" y1="440.60" x2="336.00" y2="443.90" stroke="#000" stroke-width="2.00"/>
<line x1="344.38" y1="440.60" x2="344.38" y2="442.90" stroke="#000" stroke-width="1.90"/>
<line x1="352.75" y1="440.60" x2="352.75" y2="443.90" stroke="#000" stroke-width="2.00"/>
<line x1="361.12" y1="440.60" x2="361.12" y2="442.90" stroke="#000" stroke-width="1.90"/>
<line x1="369.50" y1="440.60" x2="369.50" y2="443.90" stroke="#000" stroke-width="2.00"/>
<line x1="377.88" y1="440.60" x2="377.88" y2="442.90" stroke="#000" stroke-width="1.90"/>
<line x1="386.25" y1="440.60" x2="386.25" y2="443.90" stroke="#000" stroke-width="2.00"/>
<line x1="394.62" y1="440.60" x2="394.62" y2="442.90" stroke="#000" stroke-width="1.90"/>
<line x1="403.00" y1="440.60" x2="403.00" y2="443.90" stroke="#000" stroke-width="2.00"/>
<line x1="411.38" y1="440.60" x2="411.38" y2="442.90" stroke="#000" stroke-width="1.90"/>
<line x1="419.75" y1="440.60" x2="419.75" y2="443.90" stroke="#000" stroke-width="2.00"/>
<line x1="428.12" y1="440.60" x2="428.12" y2="442.90" stroke="#000" stroke-width="1.90"/>
<line x1="436.50" y1="440.60" x2="436.50" y2="443.90" stroke="#000" stroke-width="2.00"/>
<line x1="444.88" y1="440.60" x2="444.88" y2="442.90" stroke="#000" stroke-width="1.90"/>
<line x1="453.25" y1="440.60" x2="453.25" y2="443.90" stroke="#000" stroke-width="2.00"/>
<line x1="461.62" y1="440.60" x2="461.62" y2="442.90" stroke="#000" stroke-width="1.90"/>
<line x1="470.00" y1="440.60" x2="470.00" y2="443.90" stroke="#000" stroke-width="2.00"/>
<line x1="297.90" y1="440.60" x2="302.50" y2="440.60" stroke="#000" stroke-width="2.40"/>
<text x="292.70" y="443.50" font-size="10.40"  fill="#231815">0</text>
<line x1="297.90" y1="416.73" x2="302.50" y2="416.73" stroke="#000" stroke-width="2.40"/>
<text x="286.90" y="419.63" font-size="10.40"  fill="#231815">10</text>
<line x1="297.90" y1="392.87" x2="302.50" y2="392.87" stroke="#000" stroke-width="2.40"/>
<text x="286.90" y="395.77" font-size="10.40"  fill="#231815">20</text>
<line x1="297.90" y1="369.00" x2="302.50" y2="369.00" stroke="#000" stroke-width="2.40"/>
<text x="286.90" y="371.90" font-size="10.40"  fill="#231815">30</text>
<line x1="302.50" y1="368.10" x2="302.50" y2="441.80" stroke="#000" stroke-width="2.70"/>
<line x1="301.30" y1="440.60" x2="470.00" y2="440.60" stroke="#000" stroke-width="2.70"/>
<text x="291.30" y="456.00" font-size="10.40"  fill="#231815">14:00</text>
<text x="325.00" y="456.00" font-size="10.40"  fill="#231815">18:00</text>
<text x="358.85" y="456.00" font-size="10.40"  fill="#231815">22:00</text>
<text x="392.60" y="456.00" font-size="10.40"  fill="#231815">02:00</text>
<text x="426.30" y="456.00" font-size="10.40"  fill="#231815">06:00</text>
<text x="459.80" y="456.00" font-size="10.40"  fill="#231815">10:00</text>
<polyline points="302.54,395.16 310.84,410.24 319.13,413.26 327.68,409.74 335.97,408.23 344.52,377.07 352.81,399.69 361.11,401.45 369.40,386.37 377.95,406.47 385.99,382.09 394.54,415.27 402.58,419.04 411.13,400.69 419.42,425.83 427.72,418.29 436.26,425.33 444.56,414.27 452.85,432.36 460.90,430.86" fill="none" stroke="#000" stroke-width="2.90" stroke-linejoin="miter" stroke-linecap="butt" stroke-miterlimit="2.5"/>
<text transform="translate(281.80 450.48) rotate(-90)" x="0" y="0" font-size="11.90" font-weight="bold" fill="#231815" textLength="88.75" lengthAdjust="spacingAndGlyphs">Firing rates (Hz)</text>
<rect x="590.00" y="372.70" width="93.80" height="69.30" fill="#d3d3d3"/>
<line x1="549.40" y1="442.00" x2="549.40" y2="445.30" stroke="#000" stroke-width="2.00"/>
<line x1="557.38" y1="442.00" x2="557.38" y2="444.30" stroke="#000" stroke-width="1.90"/>
<line x1="565.36" y1="442.00" x2="565.36" y2="445.30" stroke="#000" stroke-width="2.00"/>
<line x1="573.34" y1="442.00" x2="573.34" y2="444.30" stroke="#000" stroke-width="1.90"/>
<line x1="581.32" y1="442.00" x2="581.32" y2="445.30" stroke="#000" stroke-width="2.00"/>
<line x1="589.30" y1="442.00" x2="589.30" y2="444.30" stroke="#000" stroke-width="1.90"/>
<line x1="597.28" y1="442.00" x2="597.28" y2="445.30" stroke="#000" stroke-width="2.00"/>
<line x1="605.26" y1="442.00" x2="605.26" y2="444.30" stroke="#000" stroke-width="1.90"/>
<line x1="613.24" y1="442.00" x2="613.24" y2="445.30" stroke="#000" stroke-width="2.00"/>
<line x1="621.22" y1="442.00" x2="621.22" y2="444.30" stroke="#000" stroke-width="1.90"/>
<line x1="629.20" y1="442.00" x2="629.20" y2="445.30" stroke="#000" stroke-width="2.00"/>
<line x1="637.18" y1="442.00" x2="637.18" y2="444.30" stroke="#000" stroke-width="1.90"/>
<line x1="645.16" y1="442.00" x2="645.16" y2="445.30" stroke="#000" stroke-width="2.00"/>
<line x1="653.14" y1="442.00" x2="653.14" y2="444.30" stroke="#000" stroke-width="1.90"/>
<line x1="661.12" y1="442.00" x2="661.12" y2="445.30" stroke="#000" stroke-width="2.00"/>
<line x1="669.10" y1="442.00" x2="669.10" y2="444.30" stroke="#000" stroke-width="1.90"/>
<line x1="677.08" y1="442.00" x2="677.08" y2="445.30" stroke="#000" stroke-width="2.00"/>
<line x1="685.06" y1="442.00" x2="685.06" y2="444.30" stroke="#000" stroke-width="1.90"/>
<line x1="693.04" y1="442.00" x2="693.04" y2="445.30" stroke="#000" stroke-width="2.00"/>
<line x1="701.02" y1="442.00" x2="701.02" y2="444.30" stroke="#000" stroke-width="1.90"/>
<line x1="709.00" y1="442.00" x2="709.00" y2="445.30" stroke="#000" stroke-width="2.00"/>
<line x1="544.80" y1="442.00" x2="549.40" y2="442.00" stroke="#000" stroke-width="2.40"/>
<text x="540.10" y="444.90" font-size="10.40"  fill="#231815">0</text>
<line x1="544.80" y1="417.87" x2="549.40" y2="417.87" stroke="#000" stroke-width="2.40"/>
<text x="534.30" y="420.77" font-size="10.40"  fill="#231815">10</text>
<line x1="544.80" y1="393.73" x2="549.40" y2="393.73" stroke="#000" stroke-width="2.40"/>
<text x="534.30" y="396.63" font-size="10.40"  fill="#231815">20</text>
<line x1="544.80" y1="369.60" x2="549.40" y2="369.60" stroke="#000" stroke-width="2.40"/>
<text x="534.30" y="372.50" font-size="10.40"  fill="#231815">30</text>
<line x1="549.40" y1="368.70" x2="549.40" y2="443.20" stroke="#000" stroke-width="2.70"/>
<line x1="548.20" y1="442.00" x2="709.00" y2="442.00" stroke="#000" stroke-width="2.70"/>
<text x="536.40" y="457.30" font-size="10.40"  fill="#231815">14:00</text>
<text x="568.30" y="457.30" font-size="10.40"  fill="#231815">18:00</text>
<text x="600.45" y="457.30" font-size="10.40"  fill="#231815">22:00</text>
<text x="634.60" y="457.30" font-size="10.40"  fill="#231815">02:00</text>
<text x="664.60" y="457.30" font-size="10.40"  fill="#231815">06:00</text>
<text x="697.30" y="457.30" font-size="10.40"  fill="#231815">10:00</text>
<polyline points="558.34,439.13 565.68,437.91 573.02,439.62 580.35,437.17 588.91,430.08 597.47,437.91 604.81,439.62 612.88,437.91 620.71,439.62 628.53,437.91 636.60,436.68 644.67,440.35 652.50,439.13 660.33,437.91 668.40,439.62 676.47,438.40 684.29,436.68 692.12,440.84" fill="none" stroke="#000" stroke-width="2.90" stroke-linejoin="miter" stroke-linecap="butt" stroke-miterlimit="2.5"/>
<text transform="translate(528.70 450.49) rotate(-90)" x="0" y="0" font-size="11.90" font-weight="bold" fill="#231815" textLength="89.26" lengthAdjust="spacingAndGlyphs">Firing rates (Hz)</text>
<rect x="110.10" y="479.90" width="99.60" height="77.70" fill="#d3d3d3"/>
<line x1="67.50" y1="557.60" x2="67.50" y2="560.90" stroke="#000" stroke-width="2.00"/>
<line x1="75.94" y1="557.60" x2="75.94" y2="559.90" stroke="#000" stroke-width="1.90"/>
<line x1="84.39" y1="557.60" x2="84.39" y2="560.90" stroke="#000" stroke-width="2.00"/>
<line x1="92.84" y1="557.60" x2="92.84" y2="559.90" stroke="#000" stroke-width="1.90"/>
<line x1="101.28" y1="557.60" x2="101.28" y2="560.90" stroke="#000" stroke-width="2.00"/>
<line x1="109.72" y1="557.60" x2="109.72" y2="559.90" stroke="#000" stroke-width="1.90"/>
<line x1="118.17" y1="557.60" x2="118.17" y2="560.90" stroke="#000" stroke-width="2.00"/>
<line x1="126.61" y1="557.60" x2="126.61" y2="559.90" stroke="#000" stroke-width="1.90"/>
<line x1="135.06" y1="557.60" x2="135.06" y2="560.90" stroke="#000" stroke-width="2.00"/>
<line x1="143.50" y1="557.60" x2="143.50" y2="559.90" stroke="#000" stroke-width="1.90"/>
<line x1="151.95" y1="557.60" x2="151.95" y2="560.90" stroke="#000" stroke-width="2.00"/>
<line x1="160.40" y1="557.60" x2="160.40" y2="559.90" stroke="#000" stroke-width="1.90"/>
<line x1="168.84" y1="557.60" x2="168.84" y2="560.90" stroke="#000" stroke-width="2.00"/>
<line x1="177.29" y1="557.60" x2="177.29" y2="559.90" stroke="#000" stroke-width="1.90"/>
<line x1="185.73" y1="557.60" x2="185.73" y2="560.90" stroke="#000" stroke-width="2.00"/>
<line x1="194.18" y1="557.60" x2="194.18" y2="559.90" stroke="#000" stroke-width="1.90"/>
<line x1="202.62" y1="557.60" x2="202.62" y2="560.90" stroke="#000" stroke-width="2.00"/>
<line x1="211.06" y1="557.60" x2="211.06" y2="559.90" stroke="#000" stroke-width="1.90"/>
<line x1="219.51" y1="557.60" x2="219.51" y2="560.90" stroke="#000" stroke-width="2.00"/>
<line x1="227.95" y1="557.60" x2="227.95" y2="559.90" stroke="#000" stroke-width="1.90"/>
<line x1="236.40" y1="557.60" x2="236.40" y2="560.90" stroke="#000" stroke-width="2.00"/>
<line x1="62.90" y1="557.60" x2="67.50" y2="557.60" stroke="#000" stroke-width="2.40"/>
<text x="56.30" y="560.50" font-size="10.40"  fill="#231815">0</text>
<line x1="65.10" y1="547.81" x2="67.50" y2="547.81" stroke="#000" stroke-width="1.60"/>
<line x1="62.90" y1="538.02" x2="67.50" y2="538.02" stroke="#000" stroke-width="2.40"/>
<text x="50.50" y="540.92" font-size="10.40"  fill="#231815">10</text>
<line x1="65.10" y1="528.24" x2="67.50" y2="528.24" stroke="#000" stroke-width="1.60"/>
<line x1="62.90" y1="518.45" x2="67.50" y2="518.45" stroke="#000" stroke-width="2.40"/>
<text x="50.50" y="521.35" font-size="10.40"  fill="#231815">20</text>
<line x1="65.10" y1="508.66" x2="67.50" y2="508.66" stroke="#000" stroke-width="1.60"/>
<line x1="62.90" y1="498.88" x2="67.50" y2="498.88" stroke="#000" stroke-width="2.40"/>
<text x="50.50" y="501.77" font-size="10.40"  fill="#231815">30</text>
<line x1="65.10" y1="489.09" x2="67.50" y2="489.09" stroke="#000" stroke-width="1.60"/>
<line x1="62.90" y1="479.30" x2="67.50" y2="479.30" stroke="#000" stroke-width="2.40"/>
<text x="50.50" y="482.20" font-size="10.40"  fill="#231815">40</text>
<line x1="67.50" y1="478.40" x2="67.50" y2="558.80" stroke="#000" stroke-width="2.70"/>
<line x1="66.30" y1="557.60" x2="236.40" y2="557.60" stroke="#000" stroke-width="2.70"/>
<text x="55.60" y="571.60" font-size="10.40"  fill="#231815">14:00</text>
<text x="89.20" y="571.60" font-size="10.40"  fill="#231815">18:00</text>
<text x="122.95" y="571.60" font-size="10.40"  fill="#231815">22:00</text>
<text x="156.60" y="571.60" font-size="10.40"  fill="#231815">02:00</text>
<text x="190.20" y="571.60" font-size="10.40"  fill="#231815">06:00</text>
<text x="223.60" y="571.60" font-size="10.40"  fill="#231815">10:00</text>
<polyline points="66.85,552.04 69.78,553.75 73.45,555.71 75.90,550.33 77.61,555.71 80.79,554.48 83.23,542.26 84.46,553.26 86.90,554.48 89.35,550.82 91.30,544.70 92.53,555.22 94.24,556.93 96.68,552.04 100.35,553.26 104.02,552.77 107.69,553.75 110.14,554.48 112.58,548.37 115.03,544.70 117.47,550.82 119.92,542.26 123.10,540.54 124.81,545.92 126.03,526.36 128.48,516.58 132.15,513.64 134.59,523.91 137.04,516.58 139.48,528.80 141.93,520.24 144.38,528.80 146.09,517.80 148.53,526.36 150.98,522.69 154.16,533.70 156.60,531.25 159.05,531.25 162.23,521.47 164.67,528.80 167.12,522.69 168.83,532.47 171.28,517.80 173.72,517.80 175.43,532.47 177.39,536.14 180.33,538.59 183.51,544.70 186.68,512.91 189.13,532.47 192.07,536.14 194.51,526.36 196.96,530.03 199.40,528.80 201.85,532.47 204.29,530.03 206.74,536.14 208.70,545.92 211.63,545.92 214.57,548.37 216.52,545.92 218.97,548.37 221.90,542.26 224.35,548.37 227.53,549.59 231.20,550.82 233.15,545.92 235.60,531.74" fill="none" stroke="#000" stroke-width="3.00" stroke-linejoin="miter" stroke-linecap="butt" stroke-miterlimit="2.5"/>
<text transform="translate(44.00 559.00) rotate(-90)" x="0" y="0" font-size="11.90" font-weight="bold" fill="#231815" textLength="90.18" lengthAdjust="spacingAndGlyphs">Firing rates (Hz)</text>
<rect x="349.40" y="477.90" width="101.50" height="77.90" fill="#d3d3d3"/>
<line x1="305.40" y1="555.80" x2="305.40" y2="559.10" stroke="#000" stroke-width="2.00"/>
<line x1="314.00" y1="555.80" x2="314.00" y2="558.10" stroke="#000" stroke-width="1.90"/>
<line x1="322.61" y1="555.80" x2="322.61" y2="559.10" stroke="#000" stroke-width="2.00"/>
<line x1="331.21" y1="555.80" x2="331.21" y2="558.10" stroke="#000" stroke-width="1.90"/>
<line x1="339.82" y1="555.80" x2="339.82" y2="559.10" stroke="#000" stroke-width="2.00"/>
<line x1="348.42" y1="555.80" x2="348.42" y2="558.10" stroke="#000" stroke-width="1.90"/>
<line x1="357.03" y1="555.80" x2="357.03" y2="559.10" stroke="#000" stroke-width="2.00"/>
<line x1="365.63" y1="555.80" x2="365.63" y2="558.10" stroke="#000" stroke-width="1.90"/>
<line x1="374.24" y1="555.80" x2="374.24" y2="559.10" stroke="#000" stroke-width="2.00"/>
<line x1="382.84" y1="555.80" x2="382.84" y2="558.10" stroke="#000" stroke-width="1.90"/>
<line x1="391.45" y1="555.80" x2="391.45" y2="559.10" stroke="#000" stroke-width="2.00"/>
<line x1="400.06" y1="555.80" x2="400.06" y2="558.10" stroke="#000" stroke-width="1.90"/>
<line x1="408.66" y1="555.80" x2="408.66" y2="559.10" stroke="#000" stroke-width="2.00"/>
<line x1="417.26" y1="555.80" x2="417.26" y2="558.10" stroke="#000" stroke-width="1.90"/>
<line x1="425.87" y1="555.80" x2="425.87" y2="559.10" stroke="#000" stroke-width="2.00"/>
<line x1="434.48" y1="555.80" x2="434.48" y2="558.10" stroke="#000" stroke-width="1.90"/>
<line x1="443.08" y1="555.80" x2="443.08" y2="559.10" stroke="#000" stroke-width="2.00"/>
<line x1="451.69" y1="555.80" x2="451.69" y2="558.10" stroke="#000" stroke-width="1.90"/>
<line x1="460.29" y1="555.80" x2="460.29" y2="559.10" stroke="#000" stroke-width="2.00"/>
<line x1="468.89" y1="555.80" x2="468.89" y2="558.10" stroke="#000" stroke-width="1.90"/>
<line x1="477.50" y1="555.80" x2="477.50" y2="559.10" stroke="#000" stroke-width="2.00"/>
<line x1="300.80" y1="555.80" x2="305.40" y2="555.80" stroke="#000" stroke-width="2.40"/>
<text x="294.20" y="558.70" font-size="10.40"  fill="#231815">0</text>
<line x1="303.00" y1="547.98" x2="305.40" y2="547.98" stroke="#000" stroke-width="1.60"/>
<line x1="300.80" y1="540.16" x2="305.40" y2="540.16" stroke="#000" stroke-width="2.40"/>
<text x="288.40" y="543.06" font-size="10.40"  fill="#231815">10</text>
<line x1="303.00" y1="532.34" x2="305.40" y2="532.34" stroke="#000" stroke-width="1.60"/>
<line x1="300.80" y1="524.52" x2="305.40" y2="524.52" stroke="#000" stroke-width="2.40"/>
<text x="288.40" y="527.42" font-size="10.40"  fill="#231815">20</text>
<line x1="303.00" y1="516.70" x2="305.40" y2="516.70" stroke="#000" stroke-width="1.60"/>
<line x1="300.80" y1="508.88" x2="305.40" y2="508.88" stroke="#000" stroke-width="2.40"/>
<text x="288.40" y="511.78" font-size="10.40"  fill="#231815">30</text>
<line x1="303.00" y1="501.06" x2="305.40" y2="501.06" stroke="#000" stroke-width="1.60"/>
<line x1="300.80" y1="493.24" x2="305.40" y2="493.24" stroke="#000" stroke-width="2.40"/>
<text x="288.40" y="496.14" font-size="10.40"  fill="#231815">40</text>
<line x1="303.00" y1="485.42" x2="305.40" y2="485.42" stroke="#000" stroke-width="1.60"/>
<line x1="300.80" y1="477.60" x2="305.40" y2="477.60" stroke="#000" stroke-width="2.40"/>
<text x="288.40" y="480.50" font-size="10.40"  fill="#231815">50</text>
<line x1="305.40" y1="476.70" x2="305.40" y2="557.00" stroke="#000" stroke-width="2.70"/>
<line x1="304.20" y1="555.80" x2="477.50" y2="555.80" stroke="#000" stroke-width="2.70"/>
<text x="295.50" y="571.20" font-size="10.40"  fill="#231815">14:00</text>
<text x="329.14" y="571.20" font-size="10.40"  fill="#231815">18:00</text>
<text x="362.93" y="571.20" font-size="10.40"  fill="#231815">22:00</text>
<text x="396.62" y="571.20" font-size="10.40"  fill="#231815">02:00</text>
<text x="430.26" y="571.20" font-size="10.40"  fill="#231815">06:00</text>
<text x="463.70" y="571.20" font-size="10.40"  fill="#231815">10:00</text>
<polyline points="305.90,482.00 306.60,500.00 306.52,519.84 307.47,529.35 308.42,521.20 309.78,521.88 310.87,528.67 312.91,529.35 314.95,534.78 316.30,540.22 317.66,539.54 319.02,532.07 320.38,531.39 321.47,540.22 322.83,535.46 324.46,536.14 326.49,537.50 328.26,540.22 329.62,538.86 330.98,543.61 332.34,532.07 333.70,542.93 335.60,542.26 336.96,517.12 338.32,529.35 339.40,541.58 340.49,529.35 342.12,541.58 343.21,533.42 344.84,533.42 345.92,524.59 347.55,536.82 348.91,523.91 350.27,519.84 351.36,500.14 352.99,502.17 354.08,508.97 355.03,514.40 355.98,506.25 357.34,505.57 358.70,522.55 360.05,538.86 361.82,519.84 363.18,538.86 364.95,540.22 366.30,518.48 367.93,540.22 369.57,541.58 370.92,514.40 372.28,514.40 373.37,538.86 375.00,510.33 376.36,513.04 377.72,538.86 378.80,519.84 380.43,493.34 382.20,499.46 383.15,514.40 384.51,532.07 385.87,538.86 387.23,536.14 388.99,538.86 390.76,540.22 392.12,529.35 393.75,519.84 395.11,514.40 396.20,497.42 397.83,513.04 399.18,536.14 400.00,541.58 400.76,534.92 402.72,544.70 405.16,542.26 407.12,530.03 408.83,541.03 411.28,539.81 413.72,544.70 416.17,541.03 418.61,520.24 421.06,521.47 423.51,532.47 425.95,544.70 428.40,547.15 432.07,548.37 435.00,531.25 436.47,541.03 438.18,537.36 439.89,548.37 441.85,550.82 444.29,547.15 446.74,549.59 448.70,533.70 450.41,543.48 452.85,519.02 454.57,527.58 456.52,543.48 458.97,549.59 461.41,547.15 463.86,550.82 466.30,552.04 468.75,550.82 470.46,543.48 472.42,552.04 473.64,552.77" fill="none" stroke="#000" stroke-width="3.00" stroke-linejoin="miter" stroke-linecap="butt" stroke-miterlimit="2.5"/>
<text transform="translate(281.80 558.48) rotate(-90)" x="0" y="0" font-size="11.90" font-weight="bold" fill="#231815" textLength="88.75" lengthAdjust="spacingAndGlyphs">Firing rates (Hz)</text>
<rect x="604.10" y="486.00" width="85.60" height="71.40" fill="#d3d3d3"/>
<line x1="550.50" y1="557.40" x2="550.50" y2="560.70" stroke="#000" stroke-width="2.00"/>
<line x1="558.75" y1="557.40" x2="558.75" y2="559.70" stroke="#000" stroke-width="1.90"/>
<line x1="567.00" y1="557.40" x2="567.00" y2="560.70" stroke="#000" stroke-width="2.00"/>
<line x1="575.25" y1="557.40" x2="575.25" y2="559.70" stroke="#000" stroke-width="1.90"/>
<line x1="583.50" y1="557.40" x2="583.50" y2="560.70" stroke="#000" stroke-width="2.00"/>
<line x1="591.75" y1="557.40" x2="591.75" y2="559.70" stroke="#000" stroke-width="1.90"/>
<line x1="600.00" y1="557.40" x2="600.00" y2="560.70" stroke="#000" stroke-width="2.00"/>
<line x1="608.25" y1="557.40" x2="608.25" y2="559.70" stroke="#000" stroke-width="1.90"/>
<line x1="616.50" y1="557.40" x2="616.50" y2="560.70" stroke="#000" stroke-width="2.00"/>
<line x1="624.75" y1="557.40" x2="624.75" y2="559.70" stroke="#000" stroke-width="1.90"/>
<line x1="633.00" y1="557.40" x2="633.00" y2="560.70" stroke="#000" stroke-width="2.00"/>
<line x1="641.25" y1="557.40" x2="641.25" y2="559.70" stroke="#000" stroke-width="1.90"/>
<line x1="649.50" y1="557.40" x2="649.50" y2="560.70" stroke="#000" stroke-width="2.00"/>
<line x1="657.75" y1="557.40" x2="657.75" y2="559.70" stroke="#000" stroke-width="1.90"/>
<line x1="666.00" y1="557.40" x2="666.00" y2="560.70" stroke="#000" stroke-width="2.00"/>
<line x1="674.25" y1="557.40" x2="674.25" y2="559.70" stroke="#000" stroke-width="1.90"/>
<line x1="682.50" y1="557.40" x2="682.50" y2="560.70" stroke="#000" stroke-width="2.00"/>
<line x1="690.75" y1="557.40" x2="690.75" y2="559.70" stroke="#000" stroke-width="1.90"/>
<line x1="699.00" y1="557.40" x2="699.00" y2="560.70" stroke="#000" stroke-width="2.00"/>
<line x1="707.25" y1="557.40" x2="707.25" y2="559.70" stroke="#000" stroke-width="1.90"/>
<line x1="715.50" y1="557.40" x2="715.50" y2="560.70" stroke="#000" stroke-width="2.00"/>
<line x1="545.90" y1="557.40" x2="550.50" y2="557.40" stroke="#000" stroke-width="2.40"/>
<text x="540.50" y="560.30" font-size="10.40"  fill="#231815">0</text>
<line x1="548.10" y1="547.60" x2="550.50" y2="547.60" stroke="#000" stroke-width="1.60"/>
<line x1="545.90" y1="537.80" x2="550.50" y2="537.80" stroke="#000" stroke-width="2.40"/>
<text x="534.70" y="540.70" font-size="10.40"  fill="#231815">10</text>
<line x1="548.10" y1="528.00" x2="550.50" y2="528.00" stroke="#000" stroke-width="1.60"/>
<line x1="545.90" y1="518.20" x2="550.50" y2="518.20" stroke="#000" stroke-width="2.40"/>
<text x="534.70" y="521.10" font-size="10.40"  fill="#231815">20</text>
<line x1="548.10" y1="508.40" x2="550.50" y2="508.40" stroke="#000" stroke-width="1.60"/>
<line x1="545.90" y1="498.60" x2="550.50" y2="498.60" stroke="#000" stroke-width="2.40"/>
<text x="534.70" y="501.50" font-size="10.40"  fill="#231815">30</text>
<line x1="548.10" y1="488.80" x2="550.50" y2="488.80" stroke="#000" stroke-width="1.60"/>
<line x1="545.90" y1="479.00" x2="550.50" y2="479.00" stroke="#000" stroke-width="2.40"/>
<text x="534.70" y="481.90" font-size="10.40"  fill="#231815">40</text>
<line x1="550.50" y1="478.10" x2="550.50" y2="558.60" stroke="#000" stroke-width="2.70"/>
<line x1="549.30" y1="557.40" x2="715.50" y2="557.40" stroke="#000" stroke-width="2.70"/>
<text x="538.10" y="571.80" font-size="10.40"  fill="#231815">14:00</text>
<text x="571.70" y="571.80" font-size="10.40"  fill="#231815">18:00</text>
<text x="606.05" y="571.80" font-size="10.40"  fill="#231815">22:00</text>
<text x="639.80" y="571.80" font-size="10.40"  fill="#231815">02:00</text>
<text x="673.70" y="571.80" font-size="10.40"  fill="#231815">06:00</text>
<text x="707.10" y="571.80" font-size="10.40"  fill="#231815">10:00</text>
<polyline points="558.34,552.77 560.79,552.04 562.01,556.93 564.46,556.93 566.90,551.30 569.35,556.93 571.79,550.33 574.24,549.59 576.20,556.93 577.91,550.82 579.62,556.93 581.58,550.82 584.02,549.59 585.98,555.71 587.69,548.37 589.40,548.37 591.36,554.48 592.58,543.48 594.29,542.26 596.25,545.92 598.70,547.15 599.92,548.37 601.14,555.71 603.10,554.48 604.81,556.93 607.26,556.93 609.70,555.71 611.41,550.82 612.88,556.93 615.82,556.93 618.75,550.82 621.93,553.26 624.38,556.93 626.82,552.77 628.53,550.33 630.49,556.93 632.93,552.77 635.38,556.93 637.83,550.33 640.27,550.82 642.23,553.26 643.94,556.93 646.39,555.71 648.83,556.93 651.28,553.75 653.72,552.77 656.17,555.71 658.61,556.93 661.06,553.26 663.51,556.93 665.95,555.71 668.40,550.82 670.84,551.30 674.02,556.93 676.96,553.26 679.40,556.93 681.85,550.82 684.29,555.71 686.74,550.82 689.18,549.59 691.63,551.30 694.08,555.71 696.52,553.26 698.97,556.93 701.41,554.48" fill="none" stroke="#000" stroke-width="3.00" stroke-linejoin="miter" stroke-linecap="butt" stroke-miterlimit="2.5"/>
<text transform="translate(528.70 558.48) rotate(-90)" x="0" y="0" font-size="11.90" font-weight="bold" fill="#231815" textLength="88.75" lengthAdjust="spacingAndGlyphs">Firing rates (Hz)</text>
<rect x="107.20" y="728.60" width="100.80" height="68.30" fill="#d3d3d3"/>
<line x1="64.50" y1="796.90" x2="64.50" y2="800.20" stroke="#000" stroke-width="2.00"/>
<line x1="73.06" y1="796.90" x2="73.06" y2="799.20" stroke="#000" stroke-width="1.90"/>
<line x1="81.62" y1="796.90" x2="81.62" y2="800.20" stroke="#000" stroke-width="2.00"/>
<line x1="90.18" y1="796.90" x2="90.18" y2="799.20" stroke="#000" stroke-width="1.90"/>
<line x1="98.74" y1="796.90" x2="98.74" y2="800.20" stroke="#000" stroke-width="2.00"/>
<line x1="107.30" y1="796.90" x2="107.30" y2="799.20" stroke="#000" stroke-width="1.90"/>
<line x1="115.86" y1="796.90" x2="115.86" y2="800.20" stroke="#000" stroke-width="2.00"/>
<line x1="124.42" y1="796.90" x2="124.42" y2="799.20" stroke="#000" stroke-width="1.90"/>
<line x1="132.98" y1="796.90" x2="132.98" y2="800.20" stroke="#000" stroke-width="2.00"/>
<line x1="141.54" y1="796.90" x2="141.54" y2="799.20" stroke="#000" stroke-width="1.90"/>
<line x1="150.10" y1="796.90" x2="150.10" y2="800.20" stroke="#000" stroke-width="2.00"/>
<line x1="158.66" y1="796.90" x2="158.66" y2="799.20" stroke="#000" stroke-width="1.90"/>
<line x1="167.22" y1="796.90" x2="167.22" y2="800.20" stroke="#000" stroke-width="2.00"/>
<line x1="175.78" y1="796.90" x2="175.78" y2="799.20" stroke="#000" stroke-width="1.90"/>
<line x1="184.34" y1="796.90" x2="184.34" y2="800.20" stroke="#000" stroke-width="2.00"/>
<line x1="192.90" y1="796.90" x2="192.90" y2="799.20" stroke="#000" stroke-width="1.90"/>
<line x1="201.46" y1="796.90" x2="201.46" y2="800.20" stroke="#000" stroke-width="2.00"/>
<line x1="210.02" y1="796.90" x2="210.02" y2="799.20" stroke="#000" stroke-width="1.90"/>
<line x1="218.58" y1="796.90" x2="218.58" y2="800.20" stroke="#000" stroke-width="2.00"/>
<line x1="227.14" y1="796.90" x2="227.14" y2="799.20" stroke="#000" stroke-width="1.90"/>
<line x1="235.70" y1="796.90" x2="235.70" y2="800.20" stroke="#000" stroke-width="2.00"/>
<line x1="59.90" y1="796.90" x2="64.50" y2="796.90" stroke="#000" stroke-width="2.40"/>
<text x="55.70" y="799.80" font-size="10.40"  fill="#231815">0</text>
<line x1="59.90" y1="773.27" x2="64.50" y2="773.27" stroke="#000" stroke-width="2.40"/>
<text x="49.90" y="776.17" font-size="10.40"  fill="#231815">10</text>
<line x1="59.90" y1="749.63" x2="64.50" y2="749.63" stroke="#000" stroke-width="2.40"/>
<text x="49.90" y="752.53" font-size="10.40"  fill="#231815">20</text>
<line x1="59.90" y1="726.00" x2="64.50" y2="726.00" stroke="#000" stroke-width="2.40"/>
<text x="49.90" y="728.90" font-size="10.40"  fill="#231815">30</text>
<line x1="64.50" y1="725.10" x2="64.50" y2="798.10" stroke="#000" stroke-width="2.70"/>
<line x1="63.30" y1="796.90" x2="235.70" y2="796.90" stroke="#000" stroke-width="2.70"/>
<text x="53.50" y="810.90" font-size="10.40"  fill="#231815">14:00</text>
<text x="87.44" y="810.90" font-size="10.40"  fill="#231815">18:00</text>
<text x="121.53" y="810.90" font-size="10.40"  fill="#231815">22:00</text>
<text x="155.52" y="810.90" font-size="10.40"  fill="#231815">02:00</text>
<text x="189.46" y="810.90" font-size="10.40"  fill="#231815">06:00</text>
<text x="223.20" y="810.90" font-size="10.40"  fill="#231815">10:00</text>
<polyline points="64.40,786.03 72.72,788.48 81.52,781.14 89.84,784.81 98.64,783.59 107.20,779.92 115.76,781.14 124.08,784.81 132.88,771.36 140.71,756.68 149.27,748.12 157.83,753.02 166.39,736.63 174.95,742.50 183.51,793.37 192.07,792.88 200.62,792.88 207.96,793.37 216.52,792.15" fill="none" stroke="#000" stroke-width="2.90" stroke-linejoin="miter" stroke-linecap="butt" stroke-miterlimit="2.5"/>
<text transform="translate(44.80 802.88) rotate(-90)" x="0" y="0" font-size="11.90" font-weight="bold" fill="#231815" textLength="88.85" lengthAdjust="spacingAndGlyphs">Firing rates (Hz)</text>
<rect x="345.30" y="727.10" width="101.00" height="68.30" fill="#d3d3d3"/>
<line x1="302.50" y1="795.40" x2="302.50" y2="798.70" stroke="#000" stroke-width="2.00"/>
<line x1="311.02" y1="795.40" x2="311.02" y2="797.70" stroke="#000" stroke-width="1.90"/>
<line x1="319.55" y1="795.40" x2="319.55" y2="798.70" stroke="#000" stroke-width="2.00"/>
<line x1="328.07" y1="795.40" x2="328.07" y2="797.70" stroke="#000" stroke-width="1.90"/>
<line x1="336.60" y1="795.40" x2="336.60" y2="798.70" stroke="#000" stroke-width="2.00"/>
<line x1="345.12" y1="795.40" x2="345.12" y2="797.70" stroke="#000" stroke-width="1.90"/>
<line x1="353.65" y1="795.40" x2="353.65" y2="798.70" stroke="#000" stroke-width="2.00"/>
<line x1="362.18" y1="795.40" x2="362.18" y2="797.70" stroke="#000" stroke-width="1.90"/>
<line x1="370.70" y1="795.40" x2="370.70" y2="798.70" stroke="#000" stroke-width="2.00"/>
<line x1="379.23" y1="795.40" x2="379.23" y2="797.70" stroke="#000" stroke-width="1.90"/>
<line x1="387.75" y1="795.40" x2="387.75" y2="798.70" stroke="#000" stroke-width="2.00"/>
<line x1="396.27" y1="795.40" x2="396.27" y2="797.70" stroke="#000" stroke-width="1.90"/>
<line x1="404.80" y1="795.40" x2="404.80" y2="798.70" stroke="#000" stroke-width="2.00"/>
<line x1="413.32" y1="795.40" x2="413.32" y2="797.70" stroke="#000" stroke-width="1.90"/>
<line x1="421.85" y1="795.40" x2="421.85" y2="798.70" stroke="#000" stroke-width="2.00"/>
<line x1="430.38" y1="795.40" x2="430.38" y2="797.70" stroke="#000" stroke-width="1.90"/>
<line x1="438.90" y1="795.40" x2="438.90" y2="798.70" stroke="#000" stroke-width="2.00"/>
<line x1="447.43" y1="795.40" x2="447.43" y2="797.70" stroke="#000" stroke-width="1.90"/>
<line x1="455.95" y1="795.40" x2="455.95" y2="798.70" stroke="#000" stroke-width="2.00"/>
<line x1="464.48" y1="795.40" x2="464.48" y2="797.70" stroke="#000" stroke-width="1.90"/>
<line x1="473.00" y1="795.40" x2="473.00" y2="798.70" stroke="#000" stroke-width="2.00"/>
<line x1="297.90" y1="795.40" x2="302.50" y2="795.40" stroke="#000" stroke-width="2.40"/>
<text x="292.70" y="798.30" font-size="10.40"  fill="#231815">0</text>
<line x1="297.90" y1="771.73" x2="302.50" y2="771.73" stroke="#000" stroke-width="2.40"/>
<text x="286.90" y="774.63" font-size="10.40"  fill="#231815">10</text>
<line x1="297.90" y1="748.07" x2="302.50" y2="748.07" stroke="#000" stroke-width="2.40"/>
<text x="286.90" y="750.97" font-size="10.40"  fill="#231815">20</text>
<line x1="297.90" y1="724.40" x2="302.50" y2="724.40" stroke="#000" stroke-width="2.40"/>
<text x="286.90" y="727.30" font-size="10.40"  fill="#231815">30</text>
<line x1="302.50" y1="723.50" x2="302.50" y2="796.60" stroke="#000" stroke-width="2.70"/>
<line x1="301.30" y1="795.40" x2="473.00" y2="795.40" stroke="#000" stroke-width="2.70"/>
<text x="294.10" y="810.70" font-size="10.40"  fill="#231815">14:00</text>
<text x="327.80" y="810.70" font-size="10.40"  fill="#231815">18:00</text>
<text x="361.65" y="810.70" font-size="10.40"  fill="#231815">22:00</text>
<text x="395.40" y="810.70" font-size="10.40"  fill="#231815">02:00</text>
<text x="429.10" y="810.70" font-size="10.40"  fill="#231815">06:00</text>
<text x="462.60" y="810.70" font-size="10.40"  fill="#231815">10:00</text>
<polyline points="302.54,772.31 311.09,773.32 319.38,772.81 328.18,774.07 336.47,769.80 344.77,767.79 353.32,768.54 361.61,764.01 369.90,758.99 378.45,750.19 386.75,769.80 395.54,776.58 403.84,771.56 412.64,762.76 421.18,752.70 429.48,774.82 438.27,772.31 446.32,789.90 455.37,789.65 463.91,786.64 472.21,788.40" fill="none" stroke="#000" stroke-width="2.90" stroke-linejoin="miter" stroke-linecap="butt" stroke-miterlimit="2.5"/>
<text transform="translate(281.80 801.88) rotate(-90)" x="0" y="0" font-size="11.90" font-weight="bold" fill="#231815" textLength="88.85" lengthAdjust="spacingAndGlyphs">Firing rates (Hz)</text>
<rect x="591.40" y="728.10" width="100.70" height="68.50" fill="#d3d3d3"/>
<line x1="548.50" y1="796.60" x2="548.50" y2="799.90" stroke="#000" stroke-width="2.00"/>
<line x1="557.02" y1="796.60" x2="557.02" y2="798.90" stroke="#000" stroke-width="1.90"/>
<line x1="565.54" y1="796.60" x2="565.54" y2="799.90" stroke="#000" stroke-width="2.00"/>
<line x1="574.06" y1="796.60" x2="574.06" y2="798.90" stroke="#000" stroke-width="1.90"/>
<line x1="582.58" y1="796.60" x2="582.58" y2="799.90" stroke="#000" stroke-width="2.00"/>
<line x1="591.10" y1="796.60" x2="591.10" y2="798.90" stroke="#000" stroke-width="1.90"/>
<line x1="599.62" y1="796.60" x2="599.62" y2="799.90" stroke="#000" stroke-width="2.00"/>
<line x1="608.14" y1="796.60" x2="608.14" y2="798.90" stroke="#000" stroke-width="1.90"/>
<line x1="616.66" y1="796.60" x2="616.66" y2="799.90" stroke="#000" stroke-width="2.00"/>
<line x1="625.18" y1="796.60" x2="625.18" y2="798.90" stroke="#000" stroke-width="1.90"/>
<line x1="633.70" y1="796.60" x2="633.70" y2="799.90" stroke="#000" stroke-width="2.00"/>
<line x1="642.22" y1="796.60" x2="642.22" y2="798.90" stroke="#000" stroke-width="1.90"/>
<line x1="650.74" y1="796.60" x2="650.74" y2="799.90" stroke="#000" stroke-width="2.00"/>
<line x1="659.26" y1="796.60" x2="659.26" y2="798.90" stroke="#000" stroke-width="1.90"/>
<line x1="667.78" y1="796.60" x2="667.78" y2="799.90" stroke="#000" stroke-width="2.00"/>
<line x1="676.30" y1="796.60" x2="676.30" y2="798.90" stroke="#000" stroke-width="1.90"/>
<line x1="684.82" y1="796.60" x2="684.82" y2="799.90" stroke="#000" stroke-width="2.00"/>
<line x1="693.34" y1="796.60" x2="693.34" y2="798.90" stroke="#000" stroke-width="1.90"/>
<line x1="701.86" y1="796.60" x2="701.86" y2="799.90" stroke="#000" stroke-width="2.00"/>
<line x1="710.38" y1="796.60" x2="710.38" y2="798.90" stroke="#000" stroke-width="1.90"/>
<line x1="718.90" y1="796.60" x2="718.90" y2="799.90" stroke="#000" stroke-width="2.00"/>
<line x1="543.90" y1="796.60" x2="548.50" y2="796.60" stroke="#000" stroke-width="2.40"/>
<text x="539.20" y="799.50" font-size="10.40"  fill="#231815">0</text>
<line x1="543.90" y1="772.73" x2="548.50" y2="772.73" stroke="#000" stroke-width="2.40"/>
<text x="533.40" y="775.63" font-size="10.40"  fill="#231815">10</text>
<line x1="543.90" y1="748.87" x2="548.50" y2="748.87" stroke="#000" stroke-width="2.40"/>
<text x="533.40" y="751.77" font-size="10.40"  fill="#231815">20</text>
<line x1="543.90" y1="725.00" x2="548.50" y2="725.00" stroke="#000" stroke-width="2.40"/>
<text x="533.40" y="727.90" font-size="10.40"  fill="#231815">30</text>
<line x1="548.50" y1="724.10" x2="548.50" y2="797.80" stroke="#000" stroke-width="2.70"/>
<line x1="547.30" y1="796.60" x2="718.90" y2="796.60" stroke="#000" stroke-width="2.70"/>
<text x="536.40" y="811.20" font-size="10.40"  fill="#231815">14:00</text>
<text x="570.80" y="811.20" font-size="10.40"  fill="#231815">18:00</text>
<text x="604.85" y="811.20" font-size="10.40"  fill="#231815">22:00</text>
<text x="638.50" y="811.20" font-size="10.40"  fill="#231815">02:00</text>
<text x="672.60" y="811.20" font-size="10.40"  fill="#231815">06:00</text>
<text x="705.40" y="811.20" font-size="10.40"  fill="#231815">10:00</text>
<polyline points="597.60,795.20 608.60,794.30 618.30,793.30 635.00,793.30 654.40,793.60 678.90,793.90 691.10,794.60 698.00,795.50" fill="none" stroke="#444" stroke-width="1.00" stroke-linejoin="round" stroke-linecap="butt" stroke-miterlimit="2.5"/>
<polyline points="549.90,796.40 569.40,796.00 582.90,794.60 591.50,794.80 600.00,793.10 608.60,791.50 616.50,789.10 623.20,790.30 630.00,790.60 634.90,790.90 642.20,789.70 654.40,790.30 666.70,790.90 676.50,791.50 683.80,791.50 691.10,792.70 698.50,794.30 708.20,796.00 718.00,796.40" fill="none" stroke="#000" stroke-width="2.30" stroke-linejoin="miter" stroke-linecap="butt" stroke-miterlimit="2.5"/>
<text transform="translate(528.70 801.88) rotate(-90)" x="0" y="0" font-size="11.90" font-weight="bold" fill="#231815" textLength="88.85" lengthAdjust="spacingAndGlyphs">Firing rates (Hz)</text>
<rect x="110.10" y="829.30" width="100.30" height="78.00" fill="#d3d3d3"/>
<line x1="67.80" y1="907.30" x2="67.80" y2="910.60" stroke="#000" stroke-width="2.00"/>
<line x1="76.26" y1="907.30" x2="76.26" y2="909.60" stroke="#000" stroke-width="1.90"/>
<line x1="84.72" y1="907.30" x2="84.72" y2="910.60" stroke="#000" stroke-width="2.00"/>
<line x1="93.18" y1="907.30" x2="93.18" y2="909.60" stroke="#000" stroke-width="1.90"/>
<line x1="101.64" y1="907.30" x2="101.64" y2="910.60" stroke="#000" stroke-width="2.00"/>
<line x1="110.10" y1="907.30" x2="110.10" y2="909.60" stroke="#000" stroke-width="1.90"/>
<line x1="118.56" y1="907.30" x2="118.56" y2="910.60" stroke="#000" stroke-width="2.00"/>
<line x1="127.02" y1="907.30" x2="127.02" y2="909.60" stroke="#000" stroke-width="1.90"/>
<line x1="135.48" y1="907.30" x2="135.48" y2="910.60" stroke="#000" stroke-width="2.00"/>
<line x1="143.94" y1="907.30" x2="143.94" y2="909.60" stroke="#000" stroke-width="1.90"/>
<line x1="152.40" y1="907.30" x2="152.40" y2="910.60" stroke="#000" stroke-width="2.00"/>
<line x1="160.86" y1="907.30" x2="160.86" y2="909.60" stroke="#000" stroke-width="1.90"/>
<line x1="169.32" y1="907.30" x2="169.32" y2="910.60" stroke="#000" stroke-width="2.00"/>
<line x1="177.78" y1="907.30" x2="177.78" y2="909.60" stroke="#000" stroke-width="1.90"/>
<line x1="186.24" y1="907.30" x2="186.24" y2="910.60" stroke="#000" stroke-width="2.00"/>
<line x1="194.70" y1="907.30" x2="194.70" y2="909.60" stroke="#000" stroke-width="1.90"/>
<line x1="203.16" y1="907.30" x2="203.16" y2="910.60" stroke="#000" stroke-width="2.00"/>
<line x1="211.62" y1="907.30" x2="211.62" y2="909.60" stroke="#000" stroke-width="1.90"/>
<line x1="220.08" y1="907.30" x2="220.08" y2="910.60" stroke="#000" stroke-width="2.00"/>
<line x1="228.54" y1="907.30" x2="228.54" y2="909.60" stroke="#000" stroke-width="1.90"/>
<line x1="237.00" y1="907.30" x2="237.00" y2="910.60" stroke="#000" stroke-width="2.00"/>
<line x1="63.20" y1="907.30" x2="67.80" y2="907.30" stroke="#000" stroke-width="2.40"/>
<text x="56.90" y="910.20" font-size="10.40"  fill="#231815">0</text>
<line x1="65.40" y1="897.56" x2="67.80" y2="897.56" stroke="#000" stroke-width="1.60"/>
<line x1="63.20" y1="887.82" x2="67.80" y2="887.82" stroke="#000" stroke-width="2.40"/>
<text x="51.10" y="890.72" font-size="10.40"  fill="#231815">10</text>
<line x1="65.40" y1="878.09" x2="67.80" y2="878.09" stroke="#000" stroke-width="1.60"/>
<line x1="63.20" y1="868.35" x2="67.80" y2="868.35" stroke="#000" stroke-width="2.40"/>
<text x="51.10" y="871.25" font-size="10.40"  fill="#231815">20</text>
<line x1="65.40" y1="858.61" x2="67.80" y2="858.61" stroke="#000" stroke-width="1.60"/>
<line x1="63.20" y1="848.88" x2="67.80" y2="848.88" stroke="#000" stroke-width="2.40"/>
<text x="51.10" y="851.77" font-size="10.40"  fill="#231815">30</text>
<line x1="65.40" y1="839.14" x2="67.80" y2="839.14" stroke="#000" stroke-width="1.60"/>
<line x1="63.20" y1="829.40" x2="67.80" y2="829.40" stroke="#000" stroke-width="2.40"/>
<text x="51.10" y="832.30" font-size="10.40"  fill="#231815">40</text>
<line x1="67.80" y1="828.50" x2="67.80" y2="908.50" stroke="#000" stroke-width="2.70"/>
<line x1="66.60" y1="907.30" x2="237.00" y2="907.30" stroke="#000" stroke-width="2.70"/>
<text x="56.80" y="921.30" font-size="10.40"  fill="#231815">14:00</text>
<text x="90.52" y="921.30" font-size="10.40"  fill="#231815">18:00</text>
<text x="124.39" y="921.30" font-size="10.40"  fill="#231815">22:00</text>
<text x="158.16" y="921.30" font-size="10.40"  fill="#231815">02:00</text>
<text x="191.88" y="921.30" font-size="10.40"  fill="#231815">06:00</text>
<text x="225.40" y="921.30" font-size="10.40"  fill="#231815">10:00</text>
<polyline points="68.56,898.26 71.01,897.77 73.45,899.48 75.90,900.22 77.12,893.37 79.57,892.15 82.01,892.88 84.46,897.04 86.90,898.26 90.57,897.77 92.28,891.41 94.24,893.37 96.20,897.77 98.64,897.04 101.09,892.15 103.53,894.59 105.98,890.43 107.69,893.37 110.14,897.04 111.85,894.59 113.80,895.82 116.25,891.41 118.21,897.04 121.14,897.77 124.08,896.30 126.52,889.70 129.70,888.48 132.88,884.81 134.59,867.69 136.30,873.80 137.77,867.69 139.48,876.25 140.71,867.69 143.15,875.03 145.60,878.70 146.82,862.80 148.53,856.68 150.49,868.91 152.45,871.36 154.16,865.24 155.87,872.58 157.83,865.24 160.27,871.36 162.23,868.91 163.94,859.13 165.65,843.23 167.61,854.24 168.83,864.02 171.28,857.91 172.99,864.02 174.95,843.97 176.17,856.68 177.39,905.60 179.84,905.60 183.51,905.60 187.17,905.11 190.84,905.60 194.51,904.38 198.18,903.89 201.85,905.60 205.52,904.86 209.18,905.60 212.12,903.64 214.08,902.42 217.74,904.38" fill="none" stroke="#000" stroke-width="3.00" stroke-linejoin="miter" stroke-linecap="butt" stroke-miterlimit="2.5"/>
<text transform="translate(44.80 910.99) rotate(-90)" x="0" y="0" font-size="11.90" font-weight="bold" fill="#231815" textLength="89.26" lengthAdjust="spacingAndGlyphs">Firing rates (Hz)</text>
<rect x="348.40" y="827.30" width="101.30" height="78.90" fill="#d3d3d3"/>
<line x1="305.50" y1="906.20" x2="305.50" y2="909.50" stroke="#000" stroke-width="2.00"/>
<line x1="313.98" y1="906.20" x2="313.98" y2="908.50" stroke="#000" stroke-width="1.90"/>
<line x1="322.45" y1="906.20" x2="322.45" y2="909.50" stroke="#000" stroke-width="2.00"/>
<line x1="330.93" y1="906.20" x2="330.93" y2="908.50" stroke="#000" stroke-width="1.90"/>
<line x1="339.40" y1="906.20" x2="339.40" y2="909.50" stroke="#000" stroke-width="2.00"/>
<line x1="347.88" y1="906.20" x2="347.88" y2="908.50" stroke="#000" stroke-width="1.90"/>
<line x1="356.35" y1="906.20" x2="356.35" y2="909.50" stroke="#000" stroke-width="2.00"/>
<line x1="364.82" y1="906.20" x2="364.82" y2="908.50" stroke="#000" stroke-width="1.90"/>
<line x1="373.30" y1="906.20" x2="373.30" y2="909.50" stroke="#000" stroke-width="2.00"/>
<line x1="381.77" y1="906.20" x2="381.77" y2="908.50" stroke="#000" stroke-width="1.90"/>
<line x1="390.25" y1="906.20" x2="390.25" y2="909.50" stroke="#000" stroke-width="2.00"/>
<line x1="398.73" y1="906.20" x2="398.73" y2="908.50" stroke="#000" stroke-width="1.90"/>
<line x1="407.20" y1="906.20" x2="407.20" y2="909.50" stroke="#000" stroke-width="2.00"/>
<line x1="415.68" y1="906.20" x2="415.68" y2="908.50" stroke="#000" stroke-width="1.90"/>
<line x1="424.15" y1="906.20" x2="424.15" y2="909.50" stroke="#000" stroke-width="2.00"/>
<line x1="432.62" y1="906.20" x2="432.62" y2="908.50" stroke="#000" stroke-width="1.90"/>
<line x1="441.10" y1="906.20" x2="441.10" y2="909.50" stroke="#000" stroke-width="2.00"/>
<line x1="449.57" y1="906.20" x2="449.57" y2="908.50" stroke="#000" stroke-width="1.90"/>
<line x1="458.05" y1="906.20" x2="458.05" y2="909.50" stroke="#000" stroke-width="2.00"/>
<line x1="466.52" y1="906.20" x2="466.52" y2="908.50" stroke="#000" stroke-width="1.90"/>
<line x1="475.00" y1="906.20" x2="475.00" y2="909.50" stroke="#000" stroke-width="2.00"/>
<line x1="300.90" y1="906.20" x2="305.50" y2="906.20" stroke="#000" stroke-width="2.40"/>
<text x="294.60" y="909.10" font-size="10.40"  fill="#231815">0</text>
<line x1="303.10" y1="896.38" x2="305.50" y2="896.38" stroke="#000" stroke-width="1.60"/>
<line x1="300.90" y1="886.55" x2="305.50" y2="886.55" stroke="#000" stroke-width="2.40"/>
<text x="288.80" y="889.45" font-size="10.40"  fill="#231815">10</text>
<line x1="303.10" y1="876.73" x2="305.50" y2="876.73" stroke="#000" stroke-width="1.60"/>
<line x1="300.90" y1="866.90" x2="305.50" y2="866.90" stroke="#000" stroke-width="2.40"/>
<text x="288.80" y="869.80" font-size="10.40"  fill="#231815">20</text>
<line x1="303.10" y1="857.08" x2="305.50" y2="857.08" stroke="#000" stroke-width="1.60"/>
<line x1="300.90" y1="847.25" x2="305.50" y2="847.25" stroke="#000" stroke-width="2.40"/>
<text x="288.80" y="850.15" font-size="10.40"  fill="#231815">30</text>
<line x1="303.10" y1="837.42" x2="305.50" y2="837.42" stroke="#000" stroke-width="1.60"/>
<line x1="300.90" y1="827.60" x2="305.50" y2="827.60" stroke="#000" stroke-width="2.40"/>
<text x="288.80" y="830.50" font-size="10.40"  fill="#231815">40</text>
<line x1="305.50" y1="826.70" x2="305.50" y2="907.40" stroke="#000" stroke-width="2.70"/>
<line x1="304.30" y1="906.20" x2="475.00" y2="906.20" stroke="#000" stroke-width="2.70"/>
<text x="297.70" y="921.80" font-size="10.40"  fill="#231815">14:00</text>
<text x="331.32" y="921.80" font-size="10.40"  fill="#231815">18:00</text>
<text x="365.09" y="921.80" font-size="10.40"  fill="#231815">22:00</text>
<text x="398.76" y="921.80" font-size="10.40"  fill="#231815">02:00</text>
<text x="432.38" y="921.80" font-size="10.40"  fill="#231815">06:00</text>
<text x="465.80" y="921.80" font-size="10.40"  fill="#231815">10:00</text>
<polyline points="305.38,885.54 307.34,887.26 309.29,883.10 311.01,889.70 312.72,882.36 314.67,884.81 316.63,890.92 318.34,889.70 320.79,881.14 323.23,879.92 325.68,889.70 327.39,887.26 329.35,890.92 331.79,892.88 334.24,888.48 336.68,884.81 339.62,872.58 341.58,881.14 343.53,890.92 345.98,882.36 348.42,881.14 350.14,887.26 351.85,879.92 353.80,878.70 355.76,868.91 357.47,870.14 359.18,888.48 361.14,890.92 363.10,890.92 364.81,890.92 366.52,875.03 368.48,883.59 370.43,866.47 372.15,883.59 374.59,862.80 376.30,877.47 377.77,867.69 379.48,881.14 381.44,857.91 383.15,879.92 385.11,862.80 386.82,860.35 388.04,876.25 390.00,866.47 391.71,883.59 393.42,890.92 395.38,893.37 397.34,888.48 399.05,876.25 400.76,892.15 402.72,883.59 405.16,897.04 407.12,884.81 408.83,882.36 410.54,872.58 412.50,889.70 414.95,886.03 416.90,868.42 418.61,875.03 421.06,868.91 423.51,867.69 425.22,878.70 427.17,867.69 429.62,868.91 430.84,855.46 432.55,867.69 434.51,889.70 436.96,893.37 439.40,894.59 441.85,875.03 444.29,892.15 446.74,881.14 448.21,899.48 451.63,900.71 455.30,901.93 458.97,899.48 462.64,900.22 466.30,898.75 469.97,897.04 473.64,898.75" fill="none" stroke="#000" stroke-width="3.00" stroke-linejoin="miter" stroke-linecap="butt" stroke-miterlimit="2.5"/>
<text transform="translate(282.30 910.38) rotate(-90)" x="0" y="0" font-size="11.90" font-weight="bold" fill="#231815" textLength="88.75" lengthAdjust="spacingAndGlyphs">Firing rates (Hz)</text>
<rect x="595.00" y="828.10" width="101.00" height="78.50" fill="#d3d3d3"/>
<line x1="552.00" y1="906.60" x2="552.00" y2="909.90" stroke="#000" stroke-width="2.00"/>
<line x1="560.55" y1="906.60" x2="560.55" y2="908.90" stroke="#000" stroke-width="1.90"/>
<line x1="569.10" y1="906.60" x2="569.10" y2="909.90" stroke="#000" stroke-width="2.00"/>
<line x1="577.65" y1="906.60" x2="577.65" y2="908.90" stroke="#000" stroke-width="1.90"/>
<line x1="586.20" y1="906.60" x2="586.20" y2="909.90" stroke="#000" stroke-width="2.00"/>
<line x1="594.75" y1="906.60" x2="594.75" y2="908.90" stroke="#000" stroke-width="1.90"/>
<line x1="603.30" y1="906.60" x2="603.30" y2="909.90" stroke="#000" stroke-width="2.00"/>
<line x1="611.85" y1="906.60" x2="611.85" y2="908.90" stroke="#000" stroke-width="1.90"/>
<line x1="620.40" y1="906.60" x2="620.40" y2="909.90" stroke="#000" stroke-width="2.00"/>
<line x1="628.95" y1="906.60" x2="628.95" y2="908.90" stroke="#000" stroke-width="1.90"/>
<line x1="637.50" y1="906.60" x2="637.50" y2="909.90" stroke="#000" stroke-width="2.00"/>
<line x1="646.05" y1="906.60" x2="646.05" y2="908.90" stroke="#000" stroke-width="1.90"/>
<line x1="654.60" y1="906.60" x2="654.60" y2="909.90" stroke="#000" stroke-width="2.00"/>
<line x1="663.15" y1="906.60" x2="663.15" y2="908.90" stroke="#000" stroke-width="1.90"/>
<line x1="671.70" y1="906.60" x2="671.70" y2="909.90" stroke="#000" stroke-width="2.00"/>
<line x1="680.25" y1="906.60" x2="680.25" y2="908.90" stroke="#000" stroke-width="1.90"/>
<line x1="688.80" y1="906.60" x2="688.80" y2="909.90" stroke="#000" stroke-width="2.00"/>
<line x1="697.35" y1="906.60" x2="697.35" y2="908.90" stroke="#000" stroke-width="1.90"/>
<line x1="705.90" y1="906.60" x2="705.90" y2="909.90" stroke="#000" stroke-width="2.00"/>
<line x1="714.45" y1="906.60" x2="714.45" y2="908.90" stroke="#000" stroke-width="1.90"/>
<line x1="723.00" y1="906.60" x2="723.00" y2="909.90" stroke="#000" stroke-width="2.00"/>
<line x1="547.40" y1="906.60" x2="552.00" y2="906.60" stroke="#000" stroke-width="2.40"/>
<text x="540.60" y="909.50" font-size="10.40"  fill="#231815">0</text>
<line x1="549.60" y1="896.73" x2="552.00" y2="896.73" stroke="#000" stroke-width="1.60"/>
<line x1="547.40" y1="886.85" x2="552.00" y2="886.85" stroke="#000" stroke-width="2.40"/>
<text x="534.80" y="889.75" font-size="10.40"  fill="#231815">10</text>
<line x1="549.60" y1="876.98" x2="552.00" y2="876.98" stroke="#000" stroke-width="1.60"/>
<line x1="547.40" y1="867.10" x2="552.00" y2="867.10" stroke="#000" stroke-width="2.40"/>
<text x="534.80" y="870.00" font-size="10.40"  fill="#231815">20</text>
<line x1="549.60" y1="857.23" x2="552.00" y2="857.23" stroke="#000" stroke-width="1.60"/>
<line x1="547.40" y1="847.35" x2="552.00" y2="847.35" stroke="#000" stroke-width="2.40"/>
<text x="534.80" y="850.25" font-size="10.40"  fill="#231815">30</text>
<line x1="549.60" y1="837.48" x2="552.00" y2="837.48" stroke="#000" stroke-width="1.60"/>
<line x1="547.40" y1="827.60" x2="552.00" y2="827.60" stroke="#000" stroke-width="2.40"/>
<text x="534.80" y="830.50" font-size="10.40"  fill="#231815">40</text>
<line x1="552.00" y1="826.70" x2="552.00" y2="907.80" stroke="#000" stroke-width="2.70"/>
<line x1="550.80" y1="906.60" x2="723.00" y2="906.60" stroke="#000" stroke-width="2.70"/>
<text x="540.30" y="922.20" font-size="10.40"  fill="#231815">14:00</text>
<text x="573.90" y="922.20" font-size="10.40"  fill="#231815">18:00</text>
<text x="607.95" y="922.20" font-size="10.40"  fill="#231815">22:00</text>
<text x="642.10" y="922.20" font-size="10.40"  fill="#231815">02:00</text>
<text x="675.70" y="922.20" font-size="10.40"  fill="#231815">06:00</text>
<text x="708.50" y="922.20" font-size="10.40"  fill="#231815">10:00</text>
<polyline points="616.00,904.00 623.30,903.30 628.20,904.00 640.00,903.30 647.20,903.60 659.40,904.00 671.70,904.00 683.90,904.30 693.70,904.60" fill="none" stroke="#444" stroke-width="1.00" stroke-linejoin="round" stroke-linecap="butt" stroke-miterlimit="2.5"/>
<polyline points="553.00,905.20 590.00,904.50 592.20,903.30 595.20,904.60 601.30,904.00 607.50,902.70 611.00,901.90 616.00,900.60 619.70,899.90 623.30,898.20 625.20,898.40 628.20,900.60 630.70,901.50 634.30,900.30 638.00,902.10 641.10,900.90 647.20,899.90 653.30,898.70 659.40,900.60 666.80,900.30 674.10,900.60 681.50,901.50 687.60,900.90 688.80,903.30 693.70,900.30 698.60,902.10 703.50,903.30 710.80,904.30 720.60,905.20" fill="none" stroke="#000" stroke-width="2.20" stroke-linejoin="miter" stroke-linecap="butt" stroke-miterlimit="2.5"/>
<text transform="translate(528.70 910.38) rotate(-90)" x="0" y="0" font-size="11.90" font-weight="bold" fill="#231815" textLength="88.75" lengthAdjust="spacingAndGlyphs">Firing rates (Hz)</text>
<line x1="72.90" y1="279.16" x2="72.90" y2="282.16" stroke="#000" stroke-width="2.20"/>
<line x1="77.15" y1="279.16" x2="77.15" y2="281.56" stroke="#000" stroke-width="1.60"/>
<line x1="81.39" y1="279.16" x2="81.39" y2="281.56" stroke="#000" stroke-width="1.60"/>
<line x1="85.64" y1="279.16" x2="85.64" y2="281.56" stroke="#000" stroke-width="1.60"/>
<line x1="89.89" y1="279.16" x2="89.89" y2="281.56" stroke="#000" stroke-width="1.60"/>
<line x1="94.13" y1="279.16" x2="94.13" y2="281.56" stroke="#000" stroke-width="1.60"/>
<line x1="98.38" y1="279.16" x2="98.38" y2="281.56" stroke="#000" stroke-width="1.60"/>
<line x1="102.63" y1="279.16" x2="102.63" y2="281.56" stroke="#000" stroke-width="1.60"/>
<line x1="106.87" y1="279.16" x2="106.87" y2="281.56" stroke="#000" stroke-width="1.60"/>
<line x1="111.12" y1="279.16" x2="111.12" y2="281.56" stroke="#000" stroke-width="1.60"/>
<line x1="115.37" y1="279.16" x2="115.37" y2="282.16" stroke="#000" stroke-width="2.20"/>
<line x1="119.61" y1="279.16" x2="119.61" y2="281.56" stroke="#000" stroke-width="1.60"/>
<line x1="123.86" y1="279.16" x2="123.86" y2="281.56" stroke="#000" stroke-width="1.60"/>
<line x1="128.11" y1="279.16" x2="128.11" y2="281.56" stroke="#000" stroke-width="1.60"/>
<line x1="132.35" y1="279.16" x2="132.35" y2="281.56" stroke="#000" stroke-width="1.60"/>
<line x1="136.60" y1="279.16" x2="136.60" y2="281.56" stroke="#000" stroke-width="1.60"/>
<line x1="140.85" y1="279.16" x2="140.85" y2="281.56" stroke="#000" stroke-width="1.60"/>
<line x1="145.09" y1="279.16" x2="145.09" y2="281.56" stroke="#000" stroke-width="1.60"/>
<line x1="149.34" y1="279.16" x2="149.34" y2="281.56" stroke="#000" stroke-width="1.60"/>
<line x1="153.59" y1="279.16" x2="153.59" y2="281.56" stroke="#000" stroke-width="1.60"/>
<line x1="157.83" y1="279.16" x2="157.83" y2="282.16" stroke="#000" stroke-width="2.20"/>
<line x1="162.08" y1="279.16" x2="162.08" y2="281.56" stroke="#000" stroke-width="1.60"/>
<line x1="166.33" y1="279.16" x2="166.33" y2="281.56" stroke="#000" stroke-width="1.60"/>
<line x1="170.57" y1="279.16" x2="170.57" y2="281.56" stroke="#000" stroke-width="1.60"/>
<line x1="174.82" y1="279.16" x2="174.82" y2="281.56" stroke="#000" stroke-width="1.60"/>
<line x1="179.07" y1="279.16" x2="179.07" y2="281.56" stroke="#000" stroke-width="1.60"/>
<line x1="183.31" y1="279.16" x2="183.31" y2="281.56" stroke="#000" stroke-width="1.60"/>
<line x1="187.56" y1="279.16" x2="187.56" y2="281.56" stroke="#000" stroke-width="1.60"/>
<line x1="191.81" y1="279.16" x2="191.81" y2="281.56" stroke="#000" stroke-width="1.60"/>
<line x1="196.05" y1="279.16" x2="196.05" y2="281.56" stroke="#000" stroke-width="1.60"/>
<line x1="200.30" y1="279.16" x2="200.30" y2="282.16" stroke="#000" stroke-width="2.20"/>
<line x1="68.50" y1="245.00" x2="72.90" y2="245.00" stroke="#000" stroke-width="2.40"/>
<text x="42.57" y="248.70" font-size="10.60"  fill="#231815" textLength="22.41" lengthAdjust="spacingAndGlyphs">0.08</text>
<line x1="68.50" y1="262.08" x2="72.90" y2="262.08" stroke="#000" stroke-width="2.40"/>
<text x="42.57" y="265.78" font-size="10.60"  fill="#231815" textLength="22.19" lengthAdjust="spacingAndGlyphs">0.04</text>
<line x1="68.50" y1="279.16" x2="72.90" y2="279.16" stroke="#000" stroke-width="2.40"/>
<text x="42.57" y="282.86" font-size="10.60"  fill="#231815" textLength="22.30" lengthAdjust="spacingAndGlyphs">0.00</text>
<line x1="68.50" y1="296.24" x2="72.90" y2="296.24" stroke="#000" stroke-width="2.40"/>
<text x="40.96" y="299.94" font-size="10.60"  fill="#231815" textLength="26.23" lengthAdjust="spacingAndGlyphs">-0.04</text>
<line x1="68.50" y1="313.32" x2="72.90" y2="313.32" stroke="#000" stroke-width="2.40"/>
<text x="40.95" y="317.02" font-size="10.60"  fill="#231815" textLength="26.45" lengthAdjust="spacingAndGlyphs">-0.08</text>
<line x1="68.50" y1="330.40" x2="72.90" y2="330.40" stroke="#000" stroke-width="2.40"/>
<text x="40.95" y="334.10" font-size="10.60"  fill="#231815" textLength="26.45" lengthAdjust="spacingAndGlyphs">-0.12</text>
<line x1="72.90" y1="244.10" x2="72.90" y2="331.30" stroke="#000" stroke-width="2.70"/>
<line x1="72.90" y1="279.16" x2="200.30" y2="279.16" stroke="#000" stroke-width="2.70"/>
<text x="108.20" y="292.56" font-size="10.50"  fill="#231815">0.5</text>
<text x="150.00" y="292.56" font-size="10.50"  fill="#231815">1.0</text>
<text x="192.50" y="292.56" font-size="10.50"  fill="#231815">1.5</text>
<polyline points="72.85,277.58 81.41,278.53 89.02,280.43 94.73,283.29 99.48,288.04 102.34,295.65 105.19,305.16 106.52,309.92 108.99,303.26 111.85,293.75 116.60,286.14 121.36,280.43 125.16,277.58 130.87,274.73 138.48,273.21 146.09,272.83 155.60,273.78 165.11,274.73 174.62,275.30 182.23,275.87 187.55,276.25" fill="none" stroke="#000" stroke-width="2.90" stroke-linejoin="round" stroke-linecap="butt" stroke-miterlimit="2.5"/>
<polyline points="124.70,278.30 132.00,277.60 142.00,277.30 160.00,277.40 175.00,277.70 187.60,277.90 187.60,275.30" fill="none" stroke="#000" stroke-width="1.30" stroke-linejoin="round" stroke-linecap="butt" stroke-miterlimit="2.5"/>
<text x="119.00" y="311.60" font-size="11.90" font-weight="bold" fill="#231815" stroke="#231815" stroke-width="0.40" textLength="54.78" lengthAdjust="spacingAndGlyphs">Time (ms)</text>
<text transform="translate(37.60 338.00) rotate(-90)" x="0" y="0" font-size="11.20" font-weight="bold" fill="#231815" textLength="105.56" lengthAdjust="spacingAndGlyphs">Waveform value (mV)</text>
<line x1="314.60" y1="277.62" x2="314.60" y2="280.62" stroke="#000" stroke-width="2.20"/>
<line x1="318.81" y1="277.62" x2="318.81" y2="280.02" stroke="#000" stroke-width="1.60"/>
<line x1="323.02" y1="277.62" x2="323.02" y2="280.02" stroke="#000" stroke-width="1.60"/>
<line x1="327.23" y1="277.62" x2="327.23" y2="280.02" stroke="#000" stroke-width="1.60"/>
<line x1="331.44" y1="277.62" x2="331.44" y2="280.02" stroke="#000" stroke-width="1.60"/>
<line x1="335.65" y1="277.62" x2="335.65" y2="280.02" stroke="#000" stroke-width="1.60"/>
<line x1="339.86" y1="277.62" x2="339.86" y2="280.02" stroke="#000" stroke-width="1.60"/>
<line x1="344.07" y1="277.62" x2="344.07" y2="280.02" stroke="#000" stroke-width="1.60"/>
<line x1="348.28" y1="277.62" x2="348.28" y2="280.02" stroke="#000" stroke-width="1.60"/>
<line x1="352.49" y1="277.62" x2="352.49" y2="280.02" stroke="#000" stroke-width="1.60"/>
<line x1="356.70" y1="277.62" x2="356.70" y2="280.62" stroke="#000" stroke-width="2.20"/>
<line x1="360.91" y1="277.62" x2="360.91" y2="280.02" stroke="#000" stroke-width="1.60"/>
<line x1="365.12" y1="277.62" x2="365.12" y2="280.02" stroke="#000" stroke-width="1.60"/>
<line x1="369.33" y1="277.62" x2="369.33" y2="280.02" stroke="#000" stroke-width="1.60"/>
<line x1="373.54" y1="277.62" x2="373.54" y2="280.02" stroke="#000" stroke-width="1.60"/>
<line x1="377.75" y1="277.62" x2="377.75" y2="280.02" stroke="#000" stroke-width="1.60"/>
<line x1="381.96" y1="277.62" x2="381.96" y2="280.02" stroke="#000" stroke-width="1.60"/>
<line x1="386.17" y1="277.62" x2="386.17" y2="280.02" stroke="#000" stroke-width="1.60"/>
<line x1="390.38" y1="277.62" x2="390.38" y2="280.02" stroke="#000" stroke-width="1.60"/>
<line x1="394.59" y1="277.62" x2="394.59" y2="280.02" stroke="#000" stroke-width="1.60"/>
<line x1="398.80" y1="277.62" x2="398.80" y2="280.62" stroke="#000" stroke-width="2.20"/>
<line x1="403.01" y1="277.62" x2="403.01" y2="280.02" stroke="#000" stroke-width="1.60"/>
<line x1="407.22" y1="277.62" x2="407.22" y2="280.02" stroke="#000" stroke-width="1.60"/>
<line x1="411.43" y1="277.62" x2="411.43" y2="280.02" stroke="#000" stroke-width="1.60"/>
<line x1="415.64" y1="277.62" x2="415.64" y2="280.02" stroke="#000" stroke-width="1.60"/>
<line x1="419.85" y1="277.62" x2="419.85" y2="280.02" stroke="#000" stroke-width="1.60"/>
<line x1="424.06" y1="277.62" x2="424.06" y2="280.02" stroke="#000" stroke-width="1.60"/>
<line x1="428.27" y1="277.62" x2="428.27" y2="280.02" stroke="#000" stroke-width="1.60"/>
<line x1="432.48" y1="277.62" x2="432.48" y2="280.02" stroke="#000" stroke-width="1.60"/>
<line x1="436.69" y1="277.62" x2="436.69" y2="280.02" stroke="#000" stroke-width="1.60"/>
<line x1="440.90" y1="277.62" x2="440.90" y2="280.62" stroke="#000" stroke-width="2.20"/>
<line x1="310.20" y1="243.90" x2="314.60" y2="243.90" stroke="#000" stroke-width="2.40"/>
<text x="284.77" y="247.60" font-size="10.60"  fill="#231815" textLength="22.41" lengthAdjust="spacingAndGlyphs">0.08</text>
<line x1="310.20" y1="260.76" x2="314.60" y2="260.76" stroke="#000" stroke-width="2.40"/>
<text x="284.77" y="264.46" font-size="10.60"  fill="#231815" textLength="22.19" lengthAdjust="spacingAndGlyphs">0.04</text>
<line x1="310.20" y1="277.62" x2="314.60" y2="277.62" stroke="#000" stroke-width="2.40"/>
<text x="284.77" y="281.32" font-size="10.60"  fill="#231815" textLength="22.30" lengthAdjust="spacingAndGlyphs">0.00</text>
<line x1="310.20" y1="294.48" x2="314.60" y2="294.48" stroke="#000" stroke-width="2.40"/>
<text x="283.16" y="298.18" font-size="10.60"  fill="#231815" textLength="26.23" lengthAdjust="spacingAndGlyphs">-0.04</text>
<line x1="310.20" y1="311.34" x2="314.60" y2="311.34" stroke="#000" stroke-width="2.40"/>
<text x="283.15" y="315.04" font-size="10.60"  fill="#231815" textLength="26.45" lengthAdjust="spacingAndGlyphs">-0.08</text>
<line x1="310.20" y1="328.20" x2="314.60" y2="328.20" stroke="#000" stroke-width="2.40"/>
<text x="283.15" y="331.90" font-size="10.60"  fill="#231815" textLength="26.45" lengthAdjust="spacingAndGlyphs">-0.12</text>
<line x1="314.60" y1="243.00" x2="314.60" y2="329.10" stroke="#000" stroke-width="2.70"/>
<line x1="314.60" y1="277.62" x2="440.90" y2="277.62" stroke="#000" stroke-width="2.70"/>
<text x="349.30" y="291.02" font-size="10.50"  fill="#231815">0.5</text>
<text x="391.00" y="291.02" font-size="10.50"  fill="#231815">1.0</text>
<text x="432.80" y="291.02" font-size="10.50"  fill="#231815">1.5</text>
<polyline points="314.76,276.25 325.22,276.63 334.73,277.58 338.53,280.43 341.39,288.04 344.24,299.46 348.04,308.59 350.90,301.36 353.75,291.85 357.55,283.29 361.36,277.58 365.16,274.73 370.87,273.78 378.48,273.59 389.89,274.35 401.30,275.11 412.72,275.68 424.13,276.06 428.89,276.25" fill="none" stroke="#000" stroke-width="2.90" stroke-linejoin="round" stroke-linecap="butt" stroke-miterlimit="2.5"/>
<polyline points="361.00,277.20 368.00,276.60 380.00,276.30 400.00,276.50 415.00,276.80 428.90,277.00" fill="none" stroke="#000" stroke-width="1.30" stroke-linejoin="round" stroke-linecap="butt" stroke-miterlimit="2.5"/>
<text x="360.90" y="312.80" font-size="11.90" font-weight="bold" fill="#231815" stroke="#231815" stroke-width="0.40" textLength="54.27" lengthAdjust="spacingAndGlyphs">Time (ms)</text>
<text transform="translate(280.90 337.50) rotate(-90)" x="0" y="0" font-size="11.20" font-weight="bold" fill="#231815" textLength="105.06" lengthAdjust="spacingAndGlyphs">Waveform value (mV)</text>
<line x1="560.30" y1="280.12" x2="560.30" y2="283.12" stroke="#000" stroke-width="2.20"/>
<line x1="564.49" y1="280.12" x2="564.49" y2="282.52" stroke="#000" stroke-width="1.60"/>
<line x1="568.67" y1="280.12" x2="568.67" y2="282.52" stroke="#000" stroke-width="1.60"/>
<line x1="572.86" y1="280.12" x2="572.86" y2="282.52" stroke="#000" stroke-width="1.60"/>
<line x1="577.05" y1="280.12" x2="577.05" y2="282.52" stroke="#000" stroke-width="1.60"/>
<line x1="581.23" y1="280.12" x2="581.23" y2="282.52" stroke="#000" stroke-width="1.60"/>
<line x1="585.42" y1="280.12" x2="585.42" y2="282.52" stroke="#000" stroke-width="1.60"/>
<line x1="589.61" y1="280.12" x2="589.61" y2="282.52" stroke="#000" stroke-width="1.60"/>
<line x1="593.79" y1="280.12" x2="593.79" y2="282.52" stroke="#000" stroke-width="1.60"/>
<line x1="597.98" y1="280.12" x2="597.98" y2="282.52" stroke="#000" stroke-width="1.60"/>
<line x1="602.17" y1="280.12" x2="602.17" y2="283.12" stroke="#000" stroke-width="2.20"/>
<line x1="606.35" y1="280.12" x2="606.35" y2="282.52" stroke="#000" stroke-width="1.60"/>
<line x1="610.54" y1="280.12" x2="610.54" y2="282.52" stroke="#000" stroke-width="1.60"/>
<line x1="614.73" y1="280.12" x2="614.73" y2="282.52" stroke="#000" stroke-width="1.60"/>
<line x1="618.91" y1="280.12" x2="618.91" y2="282.52" stroke="#000" stroke-width="1.60"/>
<line x1="623.10" y1="280.12" x2="623.10" y2="282.52" stroke="#000" stroke-width="1.60"/>
<line x1="627.29" y1="280.12" x2="627.29" y2="282.52" stroke="#000" stroke-width="1.60"/>
<line x1="631.47" y1="280.12" x2="631.47" y2="282.52" stroke="#000" stroke-width="1.60"/>
<line x1="635.66" y1="280.12" x2="635.66" y2="282.52" stroke="#000" stroke-width="1.60"/>
<line x1="639.85" y1="280.12" x2="639.85" y2="282.52" stroke="#000" stroke-width="1.60"/>
<line x1="644.03" y1="280.12" x2="644.03" y2="283.12" stroke="#000" stroke-width="2.20"/>
<line x1="648.22" y1="280.12" x2="648.22" y2="282.52" stroke="#000" stroke-width="1.60"/>
<line x1="652.41" y1="280.12" x2="652.41" y2="282.52" stroke="#000" stroke-width="1.60"/>
<line x1="656.59" y1="280.12" x2="656.59" y2="282.52" stroke="#000" stroke-width="1.60"/>
<line x1="660.78" y1="280.12" x2="660.78" y2="282.52" stroke="#000" stroke-width="1.60"/>
<line x1="664.97" y1="280.12" x2="664.97" y2="282.52" stroke="#000" stroke-width="1.60"/>
<line x1="669.15" y1="280.12" x2="669.15" y2="282.52" stroke="#000" stroke-width="1.60"/>
<line x1="673.34" y1="280.12" x2="673.34" y2="282.52" stroke="#000" stroke-width="1.60"/>
<line x1="677.53" y1="280.12" x2="677.53" y2="282.52" stroke="#000" stroke-width="1.60"/>
<line x1="681.71" y1="280.12" x2="681.71" y2="282.52" stroke="#000" stroke-width="1.60"/>
<line x1="685.90" y1="280.12" x2="685.90" y2="283.12" stroke="#000" stroke-width="2.20"/>
<line x1="555.90" y1="246.60" x2="560.30" y2="246.60" stroke="#000" stroke-width="2.40"/>
<text x="530.37" y="250.30" font-size="10.60"  fill="#231815" textLength="22.41" lengthAdjust="spacingAndGlyphs">0.08</text>
<line x1="555.90" y1="263.36" x2="560.30" y2="263.36" stroke="#000" stroke-width="2.40"/>
<text x="530.37" y="267.06" font-size="10.60"  fill="#231815" textLength="22.19" lengthAdjust="spacingAndGlyphs">0.04</text>
<line x1="555.90" y1="280.12" x2="560.30" y2="280.12" stroke="#000" stroke-width="2.40"/>
<text x="530.37" y="283.82" font-size="10.60"  fill="#231815" textLength="22.30" lengthAdjust="spacingAndGlyphs">0.00</text>
<line x1="555.90" y1="296.88" x2="560.30" y2="296.88" stroke="#000" stroke-width="2.40"/>
<text x="528.76" y="300.58" font-size="10.60"  fill="#231815" textLength="26.23" lengthAdjust="spacingAndGlyphs">-0.04</text>
<line x1="555.90" y1="313.64" x2="560.30" y2="313.64" stroke="#000" stroke-width="2.40"/>
<text x="528.75" y="317.34" font-size="10.60"  fill="#231815" textLength="26.45" lengthAdjust="spacingAndGlyphs">-0.08</text>
<line x1="555.90" y1="330.40" x2="560.30" y2="330.40" stroke="#000" stroke-width="2.40"/>
<text x="528.75" y="334.10" font-size="10.60"  fill="#231815" textLength="26.45" lengthAdjust="spacingAndGlyphs">-0.12</text>
<line x1="560.30" y1="245.70" x2="560.30" y2="331.30" stroke="#000" stroke-width="2.70"/>
<line x1="560.30" y1="280.12" x2="685.90" y2="280.12" stroke="#000" stroke-width="2.70"/>
<text x="593.40" y="293.52" font-size="10.50"  fill="#231815">0.5</text>
<text x="636.00" y="293.52" font-size="10.50"  fill="#231815">1.0</text>
<text x="678.80" y="293.52" font-size="10.50"  fill="#231815">1.5</text>
<polyline points="560.71,278.91 570.22,280.05 575.92,282.34 581.63,287.09 586.39,293.75 590.19,303.26 593.04,310.87 595.90,305.16 599.70,294.70 603.51,286.14 607.31,280.43 611.11,275.68 615.87,272.83 623.48,271.49 631.09,271.88 640.60,273.78 650.11,275.68 659.62,277.01 669.13,278.15 674.46,278.53" fill="none" stroke="#000" stroke-width="2.90" stroke-linejoin="round" stroke-linecap="butt" stroke-miterlimit="2.5"/>
<text x="606.30" y="314.00" font-size="11.90" font-weight="bold" fill="#231815" stroke="#231815" stroke-width="0.40" textLength="53.86" lengthAdjust="spacingAndGlyphs">Time (ms)</text>
<text transform="translate(527.50 339.70) rotate(-90)" x="0" y="0" font-size="11.20" font-weight="bold" fill="#231815" textLength="105.56" lengthAdjust="spacingAndGlyphs">Waveform value (mV)</text>
<line x1="77.10" y1="626.46" x2="77.10" y2="629.46" stroke="#000" stroke-width="2.20"/>
<line x1="81.30" y1="626.46" x2="81.30" y2="628.86" stroke="#000" stroke-width="1.60"/>
<line x1="85.51" y1="626.46" x2="85.51" y2="628.86" stroke="#000" stroke-width="1.60"/>
<line x1="89.71" y1="626.46" x2="89.71" y2="628.86" stroke="#000" stroke-width="1.60"/>
<line x1="93.91" y1="626.46" x2="93.91" y2="628.86" stroke="#000" stroke-width="1.60"/>
<line x1="98.12" y1="626.46" x2="98.12" y2="628.86" stroke="#000" stroke-width="1.60"/>
<line x1="102.32" y1="626.46" x2="102.32" y2="628.86" stroke="#000" stroke-width="1.60"/>
<line x1="106.52" y1="626.46" x2="106.52" y2="628.86" stroke="#000" stroke-width="1.60"/>
<line x1="110.73" y1="626.46" x2="110.73" y2="628.86" stroke="#000" stroke-width="1.60"/>
<line x1="114.93" y1="626.46" x2="114.93" y2="628.86" stroke="#000" stroke-width="1.60"/>
<line x1="119.13" y1="626.46" x2="119.13" y2="629.46" stroke="#000" stroke-width="2.20"/>
<line x1="123.34" y1="626.46" x2="123.34" y2="628.86" stroke="#000" stroke-width="1.60"/>
<line x1="127.54" y1="626.46" x2="127.54" y2="628.86" stroke="#000" stroke-width="1.60"/>
<line x1="131.74" y1="626.46" x2="131.74" y2="628.86" stroke="#000" stroke-width="1.60"/>
<line x1="135.95" y1="626.46" x2="135.95" y2="628.86" stroke="#000" stroke-width="1.60"/>
<line x1="140.15" y1="626.46" x2="140.15" y2="628.86" stroke="#000" stroke-width="1.60"/>
<line x1="144.35" y1="626.46" x2="144.35" y2="628.86" stroke="#000" stroke-width="1.60"/>
<line x1="148.56" y1="626.46" x2="148.56" y2="628.86" stroke="#000" stroke-width="1.60"/>
<line x1="152.76" y1="626.46" x2="152.76" y2="628.86" stroke="#000" stroke-width="1.60"/>
<line x1="156.96" y1="626.46" x2="156.96" y2="628.86" stroke="#000" stroke-width="1.60"/>
<line x1="161.17" y1="626.46" x2="161.17" y2="629.46" stroke="#000" stroke-width="2.20"/>
<line x1="165.37" y1="626.46" x2="165.37" y2="628.86" stroke="#000" stroke-width="1.60"/>
<line x1="169.57" y1="626.46" x2="169.57" y2="628.86" stroke="#000" stroke-width="1.60"/>
<line x1="173.78" y1="626.46" x2="173.78" y2="628.86" stroke="#000" stroke-width="1.60"/>
<line x1="177.98" y1="626.46" x2="177.98" y2="628.86" stroke="#000" stroke-width="1.60"/>
<line x1="182.18" y1="626.46" x2="182.18" y2="628.86" stroke="#000" stroke-width="1.60"/>
<line x1="186.39" y1="626.46" x2="186.39" y2="628.86" stroke="#000" stroke-width="1.60"/>
<line x1="190.59" y1="626.46" x2="190.59" y2="628.86" stroke="#000" stroke-width="1.60"/>
<line x1="194.79" y1="626.46" x2="194.79" y2="628.86" stroke="#000" stroke-width="1.60"/>
<line x1="199.00" y1="626.46" x2="199.00" y2="628.86" stroke="#000" stroke-width="1.60"/>
<line x1="203.20" y1="626.46" x2="203.20" y2="629.46" stroke="#000" stroke-width="2.20"/>
<line x1="72.70" y1="592.50" x2="77.10" y2="592.50" stroke="#000" stroke-width="2.40"/>
<text x="48.07" y="596.20" font-size="10.60"  fill="#231815" textLength="22.41" lengthAdjust="spacingAndGlyphs">0.08</text>
<line x1="72.70" y1="609.48" x2="77.10" y2="609.48" stroke="#000" stroke-width="2.40"/>
<text x="48.07" y="613.18" font-size="10.60"  fill="#231815" textLength="22.19" lengthAdjust="spacingAndGlyphs">0.04</text>
<line x1="72.70" y1="626.46" x2="77.10" y2="626.46" stroke="#000" stroke-width="2.40"/>
<text x="48.07" y="630.16" font-size="10.60"  fill="#231815" textLength="22.30" lengthAdjust="spacingAndGlyphs">0.00</text>
<line x1="72.70" y1="643.44" x2="77.10" y2="643.44" stroke="#000" stroke-width="2.40"/>
<text x="46.46" y="647.14" font-size="10.60"  fill="#231815" textLength="26.23" lengthAdjust="spacingAndGlyphs">-0.04</text>
<line x1="72.70" y1="660.42" x2="77.10" y2="660.42" stroke="#000" stroke-width="2.40"/>
<text x="46.45" y="664.12" font-size="10.60"  fill="#231815" textLength="26.45" lengthAdjust="spacingAndGlyphs">-0.08</text>
<line x1="72.70" y1="677.40" x2="77.10" y2="677.40" stroke="#000" stroke-width="2.40"/>
<text x="46.45" y="681.10" font-size="10.60"  fill="#231815" textLength="26.45" lengthAdjust="spacingAndGlyphs">-0.12</text>
<line x1="77.10" y1="591.60" x2="77.10" y2="678.30" stroke="#000" stroke-width="2.70"/>
<line x1="77.10" y1="626.46" x2="203.20" y2="626.46" stroke="#000" stroke-width="2.70"/>
<text x="112.20" y="639.86" font-size="10.50"  fill="#231815">0.5</text>
<text x="154.80" y="639.86" font-size="10.50"  fill="#231815">1.0</text>
<text x="197.50" y="639.86" font-size="10.50"  fill="#231815">1.5</text>
<polyline points="77.23,625.43 85.22,626.39 90.92,628.29 96.63,632.09 101.39,637.80 106.14,648.26 110.33,656.82 113.75,650.16 117.55,640.65 122.31,633.99 127.07,628.29 130.87,623.53 135.62,620.11 142.28,618.21 147.99,618.21 155.60,619.35 165.11,621.25 174.62,623.15 184.13,624.48 191.74,625.05" fill="none" stroke="#000" stroke-width="2.90" stroke-linejoin="round" stroke-linecap="butt" stroke-miterlimit="2.5"/>
<text x="120.90" y="658.20" font-size="11.90" font-weight="bold" fill="#231815" stroke="#231815" stroke-width="0.40" textLength="53.86" lengthAdjust="spacingAndGlyphs">Time (ms)</text>
<text transform="translate(43.60 687.30) rotate(-90)" x="0" y="0" font-size="11.20" font-weight="bold" fill="#231815" textLength="104.55" lengthAdjust="spacingAndGlyphs">Waveform value (mV)</text>
<line x1="315.40" y1="624.92" x2="315.40" y2="627.92" stroke="#000" stroke-width="2.20"/>
<line x1="319.60" y1="624.92" x2="319.60" y2="627.32" stroke="#000" stroke-width="1.60"/>
<line x1="323.79" y1="624.92" x2="323.79" y2="627.32" stroke="#000" stroke-width="1.60"/>
<line x1="327.99" y1="624.92" x2="327.99" y2="627.32" stroke="#000" stroke-width="1.60"/>
<line x1="332.19" y1="624.92" x2="332.19" y2="627.32" stroke="#000" stroke-width="1.60"/>
<line x1="336.38" y1="624.92" x2="336.38" y2="627.32" stroke="#000" stroke-width="1.60"/>
<line x1="340.58" y1="624.92" x2="340.58" y2="627.32" stroke="#000" stroke-width="1.60"/>
<line x1="344.78" y1="624.92" x2="344.78" y2="627.32" stroke="#000" stroke-width="1.60"/>
<line x1="348.97" y1="624.92" x2="348.97" y2="627.32" stroke="#000" stroke-width="1.60"/>
<line x1="353.17" y1="624.92" x2="353.17" y2="627.32" stroke="#000" stroke-width="1.60"/>
<line x1="357.37" y1="624.92" x2="357.37" y2="627.92" stroke="#000" stroke-width="2.20"/>
<line x1="361.56" y1="624.92" x2="361.56" y2="627.32" stroke="#000" stroke-width="1.60"/>
<line x1="365.76" y1="624.92" x2="365.76" y2="627.32" stroke="#000" stroke-width="1.60"/>
<line x1="369.96" y1="624.92" x2="369.96" y2="627.32" stroke="#000" stroke-width="1.60"/>
<line x1="374.15" y1="624.92" x2="374.15" y2="627.32" stroke="#000" stroke-width="1.60"/>
<line x1="378.35" y1="624.92" x2="378.35" y2="627.32" stroke="#000" stroke-width="1.60"/>
<line x1="382.55" y1="624.92" x2="382.55" y2="627.32" stroke="#000" stroke-width="1.60"/>
<line x1="386.74" y1="624.92" x2="386.74" y2="627.32" stroke="#000" stroke-width="1.60"/>
<line x1="390.94" y1="624.92" x2="390.94" y2="627.32" stroke="#000" stroke-width="1.60"/>
<line x1="395.14" y1="624.92" x2="395.14" y2="627.32" stroke="#000" stroke-width="1.60"/>
<line x1="399.33" y1="624.92" x2="399.33" y2="627.92" stroke="#000" stroke-width="2.20"/>
<line x1="403.53" y1="624.92" x2="403.53" y2="627.32" stroke="#000" stroke-width="1.60"/>
<line x1="407.73" y1="624.92" x2="407.73" y2="627.32" stroke="#000" stroke-width="1.60"/>
<line x1="411.92" y1="624.92" x2="411.92" y2="627.32" stroke="#000" stroke-width="1.60"/>
<line x1="416.12" y1="624.92" x2="416.12" y2="627.32" stroke="#000" stroke-width="1.60"/>
<line x1="420.32" y1="624.92" x2="420.32" y2="627.32" stroke="#000" stroke-width="1.60"/>
<line x1="424.51" y1="624.92" x2="424.51" y2="627.32" stroke="#000" stroke-width="1.60"/>
<line x1="428.71" y1="624.92" x2="428.71" y2="627.32" stroke="#000" stroke-width="1.60"/>
<line x1="432.91" y1="624.92" x2="432.91" y2="627.32" stroke="#000" stroke-width="1.60"/>
<line x1="437.10" y1="624.92" x2="437.10" y2="627.32" stroke="#000" stroke-width="1.60"/>
<line x1="441.30" y1="624.92" x2="441.30" y2="627.92" stroke="#000" stroke-width="2.20"/>
<line x1="311.00" y1="591.40" x2="315.40" y2="591.40" stroke="#000" stroke-width="2.40"/>
<text x="284.07" y="595.10" font-size="10.60"  fill="#231815" textLength="22.41" lengthAdjust="spacingAndGlyphs">0.08</text>
<line x1="311.00" y1="608.16" x2="315.40" y2="608.16" stroke="#000" stroke-width="2.40"/>
<text x="284.07" y="611.86" font-size="10.60"  fill="#231815" textLength="22.19" lengthAdjust="spacingAndGlyphs">0.04</text>
<line x1="311.00" y1="624.92" x2="315.40" y2="624.92" stroke="#000" stroke-width="2.40"/>
<text x="284.07" y="628.62" font-size="10.60"  fill="#231815" textLength="22.30" lengthAdjust="spacingAndGlyphs">0.00</text>
<line x1="311.00" y1="641.68" x2="315.40" y2="641.68" stroke="#000" stroke-width="2.40"/>
<text x="282.46" y="645.38" font-size="10.60"  fill="#231815" textLength="26.23" lengthAdjust="spacingAndGlyphs">-0.04</text>
<line x1="311.00" y1="658.44" x2="315.40" y2="658.44" stroke="#000" stroke-width="2.40"/>
<text x="282.45" y="662.14" font-size="10.60"  fill="#231815" textLength="26.45" lengthAdjust="spacingAndGlyphs">-0.08</text>
<line x1="311.00" y1="675.20" x2="315.40" y2="675.20" stroke="#000" stroke-width="2.40"/>
<text x="282.45" y="678.90" font-size="10.60"  fill="#231815" textLength="26.45" lengthAdjust="spacingAndGlyphs">-0.12</text>
<line x1="315.40" y1="590.50" x2="315.40" y2="676.10" stroke="#000" stroke-width="2.70"/>
<line x1="315.40" y1="624.92" x2="441.30" y2="624.92" stroke="#000" stroke-width="2.70"/>
<text x="350.30" y="638.32" font-size="10.50"  fill="#231815">0.5</text>
<text x="391.90" y="638.32" font-size="10.50"  fill="#231815">1.0</text>
<text x="434.70" y="638.32" font-size="10.50"  fill="#231815">1.5</text>
<polyline points="316.66,623.53 325.22,625.43 332.83,628.29 338.53,633.04 343.29,640.65 346.14,649.21 348.61,656.25 351.85,649.21 355.65,640.65 360.41,633.04 365.16,626.96 369.92,622.58 375.62,619.73 384.18,618.21 391.79,618.21 401.30,619.35 410.82,620.68 420.33,622.01 429.46,623.15" fill="none" stroke="#000" stroke-width="2.90" stroke-linejoin="round" stroke-linecap="butt" stroke-miterlimit="2.5"/>
<text x="362.21" y="659.50" font-size="11.90" font-weight="bold" fill="#231815" stroke="#231815" stroke-width="0.40" textLength="52.95" lengthAdjust="spacingAndGlyphs">Time (ms)</text>
<text transform="translate(281.40 687.80) rotate(-90)" x="0" y="0" font-size="11.20" font-weight="bold" fill="#231815" textLength="105.06" lengthAdjust="spacingAndGlyphs">Waveform value (mV)</text>
<line x1="560.10" y1="627.28" x2="560.10" y2="630.28" stroke="#000" stroke-width="2.20"/>
<line x1="564.23" y1="627.28" x2="564.23" y2="629.68" stroke="#000" stroke-width="1.60"/>
<line x1="568.36" y1="627.28" x2="568.36" y2="629.68" stroke="#000" stroke-width="1.60"/>
<line x1="572.49" y1="627.28" x2="572.49" y2="629.68" stroke="#000" stroke-width="1.60"/>
<line x1="576.62" y1="627.28" x2="576.62" y2="629.68" stroke="#000" stroke-width="1.60"/>
<line x1="580.75" y1="627.28" x2="580.75" y2="629.68" stroke="#000" stroke-width="1.60"/>
<line x1="584.88" y1="627.28" x2="584.88" y2="629.68" stroke="#000" stroke-width="1.60"/>
<line x1="589.01" y1="627.28" x2="589.01" y2="629.68" stroke="#000" stroke-width="1.60"/>
<line x1="593.14" y1="627.28" x2="593.14" y2="629.68" stroke="#000" stroke-width="1.60"/>
<line x1="597.27" y1="627.28" x2="597.27" y2="629.68" stroke="#000" stroke-width="1.60"/>
<line x1="601.40" y1="627.28" x2="601.40" y2="630.28" stroke="#000" stroke-width="2.20"/>
<line x1="605.53" y1="627.28" x2="605.53" y2="629.68" stroke="#000" stroke-width="1.60"/>
<line x1="609.66" y1="627.28" x2="609.66" y2="629.68" stroke="#000" stroke-width="1.60"/>
<line x1="613.79" y1="627.28" x2="613.79" y2="629.68" stroke="#000" stroke-width="1.60"/>
<line x1="617.92" y1="627.28" x2="617.92" y2="629.68" stroke="#000" stroke-width="1.60"/>
<line x1="622.05" y1="627.28" x2="622.05" y2="629.68" stroke="#000" stroke-width="1.60"/>
<line x1="626.18" y1="627.28" x2="626.18" y2="629.68" stroke="#000" stroke-width="1.60"/>
<line x1="630.31" y1="627.28" x2="630.31" y2="629.68" stroke="#000" stroke-width="1.60"/>
<line x1="634.44" y1="627.28" x2="634.44" y2="629.68" stroke="#000" stroke-width="1.60"/>
<line x1="638.57" y1="627.28" x2="638.57" y2="629.68" stroke="#000" stroke-width="1.60"/>
<line x1="642.70" y1="627.28" x2="642.70" y2="630.28" stroke="#000" stroke-width="2.20"/>
<line x1="646.83" y1="627.28" x2="646.83" y2="629.68" stroke="#000" stroke-width="1.60"/>
<line x1="650.96" y1="627.28" x2="650.96" y2="629.68" stroke="#000" stroke-width="1.60"/>
<line x1="655.09" y1="627.28" x2="655.09" y2="629.68" stroke="#000" stroke-width="1.60"/>
<line x1="659.22" y1="627.28" x2="659.22" y2="629.68" stroke="#000" stroke-width="1.60"/>
<line x1="663.35" y1="627.28" x2="663.35" y2="629.68" stroke="#000" stroke-width="1.60"/>
<line x1="667.48" y1="627.28" x2="667.48" y2="629.68" stroke="#000" stroke-width="1.60"/>
<line x1="671.61" y1="627.28" x2="671.61" y2="629.68" stroke="#000" stroke-width="1.60"/>
<line x1="675.74" y1="627.28" x2="675.74" y2="629.68" stroke="#000" stroke-width="1.60"/>
<line x1="679.87" y1="627.28" x2="679.87" y2="629.68" stroke="#000" stroke-width="1.60"/>
<line x1="684.00" y1="627.28" x2="684.00" y2="630.28" stroke="#000" stroke-width="2.20"/>
<line x1="555.70" y1="594.20" x2="560.10" y2="594.20" stroke="#000" stroke-width="2.40"/>
<text x="530.37" y="597.90" font-size="10.60"  fill="#231815" textLength="22.41" lengthAdjust="spacingAndGlyphs">0.08</text>
<line x1="555.70" y1="610.74" x2="560.10" y2="610.74" stroke="#000" stroke-width="2.40"/>
<text x="530.37" y="614.44" font-size="10.60"  fill="#231815" textLength="22.19" lengthAdjust="spacingAndGlyphs">0.04</text>
<line x1="555.70" y1="627.28" x2="560.10" y2="627.28" stroke="#000" stroke-width="2.40"/>
<text x="530.37" y="630.98" font-size="10.60"  fill="#231815" textLength="22.30" lengthAdjust="spacingAndGlyphs">0.00</text>
<line x1="555.70" y1="643.82" x2="560.10" y2="643.82" stroke="#000" stroke-width="2.40"/>
<text x="528.76" y="647.52" font-size="10.60"  fill="#231815" textLength="26.23" lengthAdjust="spacingAndGlyphs">-0.04</text>
<line x1="555.70" y1="660.36" x2="560.10" y2="660.36" stroke="#000" stroke-width="2.40"/>
<text x="528.75" y="664.06" font-size="10.60"  fill="#231815" textLength="26.45" lengthAdjust="spacingAndGlyphs">-0.08</text>
<line x1="555.70" y1="676.90" x2="560.10" y2="676.90" stroke="#000" stroke-width="2.40"/>
<text x="528.75" y="680.60" font-size="10.60"  fill="#231815" textLength="26.45" lengthAdjust="spacingAndGlyphs">-0.12</text>
<line x1="560.10" y1="593.30" x2="560.10" y2="677.80" stroke="#000" stroke-width="2.70"/>
<line x1="560.10" y1="627.28" x2="684.00" y2="627.28" stroke="#000" stroke-width="2.70"/>
<text x="594.30" y="640.68" font-size="10.50"  fill="#231815">0.5</text>
<text x="636.00" y="640.68" font-size="10.50"  fill="#231815">1.0</text>
<text x="676.90" y="640.68" font-size="10.50"  fill="#231815">1.5</text>
<polyline points="561.09,626.96 570.22,627.72 575.92,629.62 581.63,633.99 586.39,640.65 590.19,650.16 593.04,656.82 595.90,651.11 599.70,642.55 603.51,634.95 608.26,628.29 613.02,621.63 617.77,618.21 623.48,616.88 629.18,617.26 636.79,618.78 646.30,621.06 655.82,623.53 665.33,625.43 671.41,626.39" fill="none" stroke="#000" stroke-width="2.90" stroke-linejoin="round" stroke-linecap="butt" stroke-miterlimit="2.5"/>
<text x="607.20" y="661.00" font-size="11.90" font-weight="bold" fill="#231815" stroke="#231815" stroke-width="0.40" textLength="53.97" lengthAdjust="spacingAndGlyphs">Time (ms)</text>
<text transform="translate(528.10 689.00) rotate(-90)" x="0" y="0" font-size="11.20" font-weight="bold" fill="#231815" textLength="104.55" lengthAdjust="spacingAndGlyphs">Waveform value (mV)</text>
<line x1="77.00" y1="976.62" x2="77.00" y2="979.62" stroke="#000" stroke-width="2.20"/>
<line x1="81.24" y1="976.62" x2="81.24" y2="979.02" stroke="#000" stroke-width="1.60"/>
<line x1="85.47" y1="976.62" x2="85.47" y2="979.02" stroke="#000" stroke-width="1.60"/>
<line x1="89.71" y1="976.62" x2="89.71" y2="979.02" stroke="#000" stroke-width="1.60"/>
<line x1="93.95" y1="976.62" x2="93.95" y2="979.02" stroke="#000" stroke-width="1.60"/>
<line x1="98.18" y1="976.62" x2="98.18" y2="979.02" stroke="#000" stroke-width="1.60"/>
<line x1="102.42" y1="976.62" x2="102.42" y2="979.02" stroke="#000" stroke-width="1.60"/>
<line x1="106.66" y1="976.62" x2="106.66" y2="979.02" stroke="#000" stroke-width="1.60"/>
<line x1="110.89" y1="976.62" x2="110.89" y2="979.02" stroke="#000" stroke-width="1.60"/>
<line x1="115.13" y1="976.62" x2="115.13" y2="979.02" stroke="#000" stroke-width="1.60"/>
<line x1="119.37" y1="976.62" x2="119.37" y2="979.62" stroke="#000" stroke-width="2.20"/>
<line x1="123.60" y1="976.62" x2="123.60" y2="979.02" stroke="#000" stroke-width="1.60"/>
<line x1="127.84" y1="976.62" x2="127.84" y2="979.02" stroke="#000" stroke-width="1.60"/>
<line x1="132.08" y1="976.62" x2="132.08" y2="979.02" stroke="#000" stroke-width="1.60"/>
<line x1="136.31" y1="976.62" x2="136.31" y2="979.02" stroke="#000" stroke-width="1.60"/>
<line x1="140.55" y1="976.62" x2="140.55" y2="979.02" stroke="#000" stroke-width="1.60"/>
<line x1="144.79" y1="976.62" x2="144.79" y2="979.02" stroke="#000" stroke-width="1.60"/>
<line x1="149.02" y1="976.62" x2="149.02" y2="979.02" stroke="#000" stroke-width="1.60"/>
<line x1="153.26" y1="976.62" x2="153.26" y2="979.02" stroke="#000" stroke-width="1.60"/>
<line x1="157.50" y1="976.62" x2="157.50" y2="979.02" stroke="#000" stroke-width="1.60"/>
<line x1="161.73" y1="976.62" x2="161.73" y2="979.62" stroke="#000" stroke-width="2.20"/>
<line x1="165.97" y1="976.62" x2="165.97" y2="979.02" stroke="#000" stroke-width="1.60"/>
<line x1="170.21" y1="976.62" x2="170.21" y2="979.02" stroke="#000" stroke-width="1.60"/>
<line x1="174.44" y1="976.62" x2="174.44" y2="979.02" stroke="#000" stroke-width="1.60"/>
<line x1="178.68" y1="976.62" x2="178.68" y2="979.02" stroke="#000" stroke-width="1.60"/>
<line x1="182.92" y1="976.62" x2="182.92" y2="979.02" stroke="#000" stroke-width="1.60"/>
<line x1="187.15" y1="976.62" x2="187.15" y2="979.02" stroke="#000" stroke-width="1.60"/>
<line x1="191.39" y1="976.62" x2="191.39" y2="979.02" stroke="#000" stroke-width="1.60"/>
<line x1="195.63" y1="976.62" x2="195.63" y2="979.02" stroke="#000" stroke-width="1.60"/>
<line x1="199.86" y1="976.62" x2="199.86" y2="979.02" stroke="#000" stroke-width="1.60"/>
<line x1="204.10" y1="976.62" x2="204.10" y2="979.62" stroke="#000" stroke-width="2.20"/>
<line x1="72.60" y1="942.90" x2="77.00" y2="942.90" stroke="#000" stroke-width="2.40"/>
<text x="49.17" y="946.60" font-size="10.60"  fill="#231815" textLength="22.41" lengthAdjust="spacingAndGlyphs">0.08</text>
<line x1="72.60" y1="959.76" x2="77.00" y2="959.76" stroke="#000" stroke-width="2.40"/>
<text x="49.17" y="963.46" font-size="10.60"  fill="#231815" textLength="22.19" lengthAdjust="spacingAndGlyphs">0.04</text>
<line x1="72.60" y1="976.62" x2="77.00" y2="976.62" stroke="#000" stroke-width="2.40"/>
<text x="49.17" y="980.32" font-size="10.60"  fill="#231815" textLength="22.30" lengthAdjust="spacingAndGlyphs">0.00</text>
<line x1="72.60" y1="993.48" x2="77.00" y2="993.48" stroke="#000" stroke-width="2.40"/>
<text x="47.56" y="997.18" font-size="10.60"  fill="#231815" textLength="26.23" lengthAdjust="spacingAndGlyphs">-0.04</text>
<line x1="72.60" y1="1010.34" x2="77.00" y2="1010.34" stroke="#000" stroke-width="2.40"/>
<text x="47.55" y="1014.04" font-size="10.60"  fill="#231815" textLength="26.45" lengthAdjust="spacingAndGlyphs">-0.08</text>
<line x1="72.60" y1="1027.20" x2="77.00" y2="1027.20" stroke="#000" stroke-width="2.40"/>
<text x="47.55" y="1030.90" font-size="10.60"  fill="#231815" textLength="26.45" lengthAdjust="spacingAndGlyphs">-0.12</text>
<line x1="77.00" y1="942.00" x2="77.00" y2="1028.10" stroke="#000" stroke-width="2.70"/>
<line x1="77.00" y1="976.62" x2="204.10" y2="976.62" stroke="#000" stroke-width="2.70"/>
<text x="111.20" y="990.02" font-size="10.50"  fill="#231815">0.5</text>
<text x="154.80" y="990.02" font-size="10.50"  fill="#231815">1.0</text>
<text x="198.50" y="990.02" font-size="10.50"  fill="#231815">1.5</text>
<polyline points="77.61,975.19 85.22,976.14 92.83,978.04 98.53,980.90 103.29,987.55 107.09,997.07 110.90,1006.58 114.70,998.97 118.51,987.55 122.31,979.95 126.11,973.29 130.87,970.43 136.58,970.43 146.09,971.77 155.60,973.86 165.11,975.19 176.52,976.14 187.93,976.71 193.64,976.71" fill="none" stroke="#000" stroke-width="2.90" stroke-linejoin="round" stroke-linecap="butt" stroke-miterlimit="2.5"/>
<text x="122.20" y="1005.60" font-size="11.90" font-weight="bold" fill="#231815" stroke="#231815" stroke-width="0.40" textLength="53.97" lengthAdjust="spacingAndGlyphs">Time (ms)</text>
<text transform="translate(44.70 1036.00) rotate(-90)" x="0" y="0" font-size="11.20" font-weight="bold" fill="#231815" textLength="105.66" lengthAdjust="spacingAndGlyphs">Waveform value (mV)</text>
<line x1="315.10" y1="975.16" x2="315.10" y2="978.16" stroke="#000" stroke-width="2.20"/>
<line x1="319.32" y1="975.16" x2="319.32" y2="977.56" stroke="#000" stroke-width="1.60"/>
<line x1="323.53" y1="975.16" x2="323.53" y2="977.56" stroke="#000" stroke-width="1.60"/>
<line x1="327.75" y1="975.16" x2="327.75" y2="977.56" stroke="#000" stroke-width="1.60"/>
<line x1="331.97" y1="975.16" x2="331.97" y2="977.56" stroke="#000" stroke-width="1.60"/>
<line x1="336.18" y1="975.16" x2="336.18" y2="977.56" stroke="#000" stroke-width="1.60"/>
<line x1="340.40" y1="975.16" x2="340.40" y2="977.56" stroke="#000" stroke-width="1.60"/>
<line x1="344.62" y1="975.16" x2="344.62" y2="977.56" stroke="#000" stroke-width="1.60"/>
<line x1="348.83" y1="975.16" x2="348.83" y2="977.56" stroke="#000" stroke-width="1.60"/>
<line x1="353.05" y1="975.16" x2="353.05" y2="977.56" stroke="#000" stroke-width="1.60"/>
<line x1="357.27" y1="975.16" x2="357.27" y2="978.16" stroke="#000" stroke-width="2.20"/>
<line x1="361.48" y1="975.16" x2="361.48" y2="977.56" stroke="#000" stroke-width="1.60"/>
<line x1="365.70" y1="975.16" x2="365.70" y2="977.56" stroke="#000" stroke-width="1.60"/>
<line x1="369.92" y1="975.16" x2="369.92" y2="977.56" stroke="#000" stroke-width="1.60"/>
<line x1="374.13" y1="975.16" x2="374.13" y2="977.56" stroke="#000" stroke-width="1.60"/>
<line x1="378.35" y1="975.16" x2="378.35" y2="977.56" stroke="#000" stroke-width="1.60"/>
<line x1="382.57" y1="975.16" x2="382.57" y2="977.56" stroke="#000" stroke-width="1.60"/>
<line x1="386.78" y1="975.16" x2="386.78" y2="977.56" stroke="#000" stroke-width="1.60"/>
<line x1="391.00" y1="975.16" x2="391.00" y2="977.56" stroke="#000" stroke-width="1.60"/>
<line x1="395.22" y1="975.16" x2="395.22" y2="977.56" stroke="#000" stroke-width="1.60"/>
<line x1="399.43" y1="975.16" x2="399.43" y2="978.16" stroke="#000" stroke-width="2.20"/>
<line x1="403.65" y1="975.16" x2="403.65" y2="977.56" stroke="#000" stroke-width="1.60"/>
<line x1="407.87" y1="975.16" x2="407.87" y2="977.56" stroke="#000" stroke-width="1.60"/>
<line x1="412.08" y1="975.16" x2="412.08" y2="977.56" stroke="#000" stroke-width="1.60"/>
<line x1="416.30" y1="975.16" x2="416.30" y2="977.56" stroke="#000" stroke-width="1.60"/>
<line x1="420.52" y1="975.16" x2="420.52" y2="977.56" stroke="#000" stroke-width="1.60"/>
<line x1="424.73" y1="975.16" x2="424.73" y2="977.56" stroke="#000" stroke-width="1.60"/>
<line x1="428.95" y1="975.16" x2="428.95" y2="977.56" stroke="#000" stroke-width="1.60"/>
<line x1="433.17" y1="975.16" x2="433.17" y2="977.56" stroke="#000" stroke-width="1.60"/>
<line x1="437.38" y1="975.16" x2="437.38" y2="977.56" stroke="#000" stroke-width="1.60"/>
<line x1="441.60" y1="975.16" x2="441.60" y2="978.16" stroke="#000" stroke-width="2.20"/>
<line x1="310.70" y1="941.20" x2="315.10" y2="941.20" stroke="#000" stroke-width="2.40"/>
<text x="285.37" y="944.90" font-size="10.60"  fill="#231815" textLength="22.41" lengthAdjust="spacingAndGlyphs">0.08</text>
<line x1="310.70" y1="958.18" x2="315.10" y2="958.18" stroke="#000" stroke-width="2.40"/>
<text x="285.37" y="961.88" font-size="10.60"  fill="#231815" textLength="22.19" lengthAdjust="spacingAndGlyphs">0.04</text>
<line x1="310.70" y1="975.16" x2="315.10" y2="975.16" stroke="#000" stroke-width="2.40"/>
<text x="285.37" y="978.86" font-size="10.60"  fill="#231815" textLength="22.30" lengthAdjust="spacingAndGlyphs">0.00</text>
<line x1="310.70" y1="992.14" x2="315.10" y2="992.14" stroke="#000" stroke-width="2.40"/>
<text x="283.76" y="995.84" font-size="10.60"  fill="#231815" textLength="26.23" lengthAdjust="spacingAndGlyphs">-0.04</text>
<line x1="310.70" y1="1009.12" x2="315.10" y2="1009.12" stroke="#000" stroke-width="2.40"/>
<text x="283.75" y="1012.82" font-size="10.60"  fill="#231815" textLength="26.45" lengthAdjust="spacingAndGlyphs">-0.08</text>
<line x1="310.70" y1="1026.10" x2="315.10" y2="1026.10" stroke="#000" stroke-width="2.40"/>
<text x="283.75" y="1029.80" font-size="10.60"  fill="#231815" textLength="26.45" lengthAdjust="spacingAndGlyphs">-0.12</text>
<line x1="315.10" y1="940.30" x2="315.10" y2="1027.00" stroke="#000" stroke-width="2.70"/>
<line x1="315.10" y1="975.16" x2="441.60" y2="975.16" stroke="#000" stroke-width="2.70"/>
<text x="351.20" y="988.56" font-size="10.50"  fill="#231815">0.5</text>
<text x="392.90" y="988.56" font-size="10.50"  fill="#231815">1.0</text>
<text x="435.70" y="988.56" font-size="10.50"  fill="#231815">1.5</text>
<polyline points="316.66,974.24 325.22,975.19 332.83,977.09 338.53,980.90 342.34,987.55 346.14,997.07 348.99,1005.62 351.85,998.97 355.65,988.51 359.46,979.95 363.26,972.72 367.07,970.05 372.77,968.91 380.38,969.48 389.89,971.39 399.40,973.29 408.91,974.24 420.33,974.81 429.84,975.19" fill="none" stroke="#000" stroke-width="2.90" stroke-linejoin="round" stroke-linecap="butt" stroke-miterlimit="2.5"/>
<text x="363.20" y="1007.00" font-size="11.90" font-weight="bold" fill="#231815" stroke="#231815" stroke-width="0.40" textLength="53.86" lengthAdjust="spacingAndGlyphs">Time (ms)</text>
<text transform="translate(283.60 1038.20) rotate(-90)" x="0" y="0" font-size="11.20" font-weight="bold" fill="#231815" textLength="105.66" lengthAdjust="spacingAndGlyphs">Waveform value (mV)</text>
<line x1="560.90" y1="975.40" x2="560.90" y2="978.40" stroke="#000" stroke-width="2.20"/>
<line x1="565.00" y1="975.40" x2="565.00" y2="977.80" stroke="#000" stroke-width="1.60"/>
<line x1="569.11" y1="975.40" x2="569.11" y2="977.80" stroke="#000" stroke-width="1.60"/>
<line x1="573.21" y1="975.40" x2="573.21" y2="977.80" stroke="#000" stroke-width="1.60"/>
<line x1="577.31" y1="975.40" x2="577.31" y2="977.80" stroke="#000" stroke-width="1.60"/>
<line x1="581.42" y1="975.40" x2="581.42" y2="977.80" stroke="#000" stroke-width="1.60"/>
<line x1="585.52" y1="975.40" x2="585.52" y2="977.80" stroke="#000" stroke-width="1.60"/>
<line x1="589.62" y1="975.40" x2="589.62" y2="977.80" stroke="#000" stroke-width="1.60"/>
<line x1="593.73" y1="975.40" x2="593.73" y2="977.80" stroke="#000" stroke-width="1.60"/>
<line x1="597.83" y1="975.40" x2="597.83" y2="977.80" stroke="#000" stroke-width="1.60"/>
<line x1="601.93" y1="975.40" x2="601.93" y2="978.40" stroke="#000" stroke-width="2.20"/>
<line x1="606.04" y1="975.40" x2="606.04" y2="977.80" stroke="#000" stroke-width="1.60"/>
<line x1="610.14" y1="975.40" x2="610.14" y2="977.80" stroke="#000" stroke-width="1.60"/>
<line x1="614.24" y1="975.40" x2="614.24" y2="977.80" stroke="#000" stroke-width="1.60"/>
<line x1="618.35" y1="975.40" x2="618.35" y2="977.80" stroke="#000" stroke-width="1.60"/>
<line x1="622.45" y1="975.40" x2="622.45" y2="977.80" stroke="#000" stroke-width="1.60"/>
<line x1="626.55" y1="975.40" x2="626.55" y2="977.80" stroke="#000" stroke-width="1.60"/>
<line x1="630.66" y1="975.40" x2="630.66" y2="977.80" stroke="#000" stroke-width="1.60"/>
<line x1="634.76" y1="975.40" x2="634.76" y2="977.80" stroke="#000" stroke-width="1.60"/>
<line x1="638.86" y1="975.40" x2="638.86" y2="977.80" stroke="#000" stroke-width="1.60"/>
<line x1="642.97" y1="975.40" x2="642.97" y2="978.40" stroke="#000" stroke-width="2.20"/>
<line x1="647.07" y1="975.40" x2="647.07" y2="977.80" stroke="#000" stroke-width="1.60"/>
<line x1="651.17" y1="975.40" x2="651.17" y2="977.80" stroke="#000" stroke-width="1.60"/>
<line x1="655.28" y1="975.40" x2="655.28" y2="977.80" stroke="#000" stroke-width="1.60"/>
<line x1="659.38" y1="975.40" x2="659.38" y2="977.80" stroke="#000" stroke-width="1.60"/>
<line x1="663.48" y1="975.40" x2="663.48" y2="977.80" stroke="#000" stroke-width="1.60"/>
<line x1="667.59" y1="975.40" x2="667.59" y2="977.80" stroke="#000" stroke-width="1.60"/>
<line x1="671.69" y1="975.40" x2="671.69" y2="977.80" stroke="#000" stroke-width="1.60"/>
<line x1="675.79" y1="975.40" x2="675.79" y2="977.80" stroke="#000" stroke-width="1.60"/>
<line x1="679.90" y1="975.40" x2="679.90" y2="977.80" stroke="#000" stroke-width="1.60"/>
<line x1="684.00" y1="975.40" x2="684.00" y2="978.40" stroke="#000" stroke-width="2.20"/>
<line x1="556.50" y1="941.20" x2="560.90" y2="941.20" stroke="#000" stroke-width="2.40"/>
<text x="533.07" y="944.90" font-size="10.60"  fill="#231815" textLength="22.41" lengthAdjust="spacingAndGlyphs">0.08</text>
<line x1="556.50" y1="958.30" x2="560.90" y2="958.30" stroke="#000" stroke-width="2.40"/>
<text x="533.07" y="962.00" font-size="10.60"  fill="#231815" textLength="22.19" lengthAdjust="spacingAndGlyphs">0.04</text>
<line x1="556.50" y1="975.40" x2="560.90" y2="975.40" stroke="#000" stroke-width="2.40"/>
<text x="533.07" y="979.10" font-size="10.60"  fill="#231815" textLength="22.30" lengthAdjust="spacingAndGlyphs">0.00</text>
<line x1="556.50" y1="992.50" x2="560.90" y2="992.50" stroke="#000" stroke-width="2.40"/>
<text x="531.46" y="996.20" font-size="10.60"  fill="#231815" textLength="26.23" lengthAdjust="spacingAndGlyphs">-0.04</text>
<line x1="556.50" y1="1009.60" x2="560.90" y2="1009.60" stroke="#000" stroke-width="2.40"/>
<text x="531.45" y="1013.30" font-size="10.60"  fill="#231815" textLength="26.45" lengthAdjust="spacingAndGlyphs">-0.08</text>
<line x1="556.50" y1="1026.70" x2="560.90" y2="1026.70" stroke="#000" stroke-width="2.40"/>
<text x="531.45" y="1030.40" font-size="10.60"  fill="#231815" textLength="26.45" lengthAdjust="spacingAndGlyphs">-0.12</text>
<line x1="560.90" y1="940.30" x2="560.90" y2="1027.60" stroke="#000" stroke-width="2.70"/>
<line x1="560.90" y1="975.40" x2="684.00" y2="975.40" stroke="#000" stroke-width="2.70"/>
<text x="595.30" y="988.80" font-size="10.50"  fill="#231815">0.5</text>
<text x="635.00" y="988.80" font-size="10.50"  fill="#231815">1.0</text>
<text x="676.90" y="988.80" font-size="10.50"  fill="#231815">1.5</text>
<polyline points="562.23,974.62 570.22,975.76 576.88,978.04 582.58,981.85 587.34,989.46 591.14,998.97 593.99,1005.62 597.23,998.97 600.65,989.46 604.46,979.95 609.21,973.29 613.97,970.82 621.58,970.05 631.09,971.01 640.60,972.72 650.11,973.86 661.52,974.62 672.93,975.19" fill="none" stroke="#000" stroke-width="2.90" stroke-linejoin="round" stroke-linecap="butt" stroke-miterlimit="2.5"/>
<text x="609.10" y="1009.00" font-size="11.90" font-weight="bold" fill="#231815" stroke="#231815" stroke-width="0.40" textLength="53.97" lengthAdjust="spacingAndGlyphs">Time (ms)</text>
<text transform="translate(529.20 1038.70) rotate(-90)" x="0" y="0" font-size="11.20" font-weight="bold" fill="#231815" textLength="105.06" lengthAdjust="spacingAndGlyphs">Waveform value (mV)</text>
<text x="4.74" y="22.60" font-size="15.80" font-weight="bold" fill="#231815" stroke="#231815" stroke-width="0.20" textLength="18.01" lengthAdjust="spacingAndGlyphs">A1</text>
<text x="4.71" y="138.80" font-size="15.80" font-weight="bold" fill="#231815" stroke="#231815" stroke-width="0.20" textLength="19.57" lengthAdjust="spacingAndGlyphs">A2</text>
<text x="4.81" y="248.60" font-size="15.80" font-weight="bold" fill="#231815" stroke="#231815" stroke-width="0.20" textLength="19.57" lengthAdjust="spacingAndGlyphs">A3</text>
<text x="247.12" y="22.30" font-size="15.80" font-weight="bold" fill="#231815" stroke="#231815" stroke-width="0.20" textLength="19.07" lengthAdjust="spacingAndGlyphs">A4</text>
<text x="246.92" y="138.50" font-size="15.80" font-weight="bold" fill="#231815" stroke="#231815" stroke-width="0.20" textLength="19.37" lengthAdjust="spacingAndGlyphs">A5</text>
<text x="246.91" y="248.30" font-size="15.80" font-weight="bold" fill="#231815" stroke="#231815" stroke-width="0.20" textLength="19.57" lengthAdjust="spacingAndGlyphs">A6</text>
<text x="494.61" y="22.40" font-size="15.80" font-weight="bold" fill="#231815" stroke="#231815" stroke-width="0.20" textLength="19.67" lengthAdjust="spacingAndGlyphs">A7</text>
<text x="494.61" y="138.50" font-size="15.80" font-weight="bold" fill="#231815" stroke="#231815" stroke-width="0.20" textLength="19.47" lengthAdjust="spacingAndGlyphs">A8</text>
<text x="494.61" y="247.70" font-size="15.80" font-weight="bold" fill="#231815" stroke="#231815" stroke-width="0.20" textLength="19.57" lengthAdjust="spacingAndGlyphs">A9</text>
<text x="5.08" y="368.30" font-size="15.80" font-weight="bold" fill="#231815" stroke="#231815" stroke-width="0.20" textLength="18.59" lengthAdjust="spacingAndGlyphs">B1</text>
<text x="5.00" y="476.70" font-size="15.80" font-weight="bold" fill="#231815" stroke="#231815" stroke-width="0.20" textLength="20.20" lengthAdjust="spacingAndGlyphs">B2</text>
<text x="4.00" y="596.00" font-size="15.80" font-weight="bold" fill="#231815" stroke="#231815" stroke-width="0.20" textLength="20.20" lengthAdjust="spacingAndGlyphs">B3</text>
<text x="246.33" y="367.60" font-size="15.80" font-weight="bold" fill="#231815" stroke="#231815" stroke-width="0.20" textLength="19.67" lengthAdjust="spacingAndGlyphs">B4</text>
<text x="246.31" y="476.70" font-size="15.80" font-weight="bold" fill="#231815" stroke="#231815" stroke-width="0.20" textLength="19.98" lengthAdjust="spacingAndGlyphs">B5</text>
<text x="246.30" y="596.00" font-size="15.80" font-weight="bold" fill="#231815" stroke="#231815" stroke-width="0.20" textLength="20.20" lengthAdjust="spacingAndGlyphs">B6</text>
<text x="493.99" y="367.70" font-size="15.80" font-weight="bold" fill="#231815" stroke="#231815" stroke-width="0.20" textLength="20.31" lengthAdjust="spacingAndGlyphs">B7</text>
<text x="494.01" y="476.70" font-size="15.80" font-weight="bold" fill="#231815" stroke="#231815" stroke-width="0.20" textLength="20.09" lengthAdjust="spacingAndGlyphs">B8</text>
<text x="494.00" y="596.00" font-size="15.80" font-weight="bold" fill="#231815" stroke="#231815" stroke-width="0.20" textLength="20.20" lengthAdjust="spacingAndGlyphs">B9</text>
<text x="5.46" y="717.30" font-size="15.80" font-weight="bold" fill="#231815" stroke="#231815" stroke-width="0.20" textLength="18.20" lengthAdjust="spacingAndGlyphs">C1</text>
<text x="5.41" y="831.00" font-size="15.80" font-weight="bold" fill="#231815" stroke="#231815" stroke-width="0.20" textLength="19.77" lengthAdjust="spacingAndGlyphs">C2</text>
<text x="5.41" y="942.60" font-size="15.80" font-weight="bold" fill="#231815" stroke="#231815" stroke-width="0.20" textLength="19.77" lengthAdjust="spacingAndGlyphs">C3</text>
<text x="246.73" y="717.30" font-size="15.80" font-weight="bold" fill="#231815" stroke="#231815" stroke-width="0.20" textLength="19.27" lengthAdjust="spacingAndGlyphs">C4</text>
<text x="246.72" y="831.00" font-size="15.80" font-weight="bold" fill="#231815" stroke="#231815" stroke-width="0.20" textLength="19.57" lengthAdjust="spacingAndGlyphs">C5</text>
<text x="246.71" y="942.60" font-size="15.80" font-weight="bold" fill="#231815" stroke="#231815" stroke-width="0.20" textLength="19.77" lengthAdjust="spacingAndGlyphs">C6</text>
<text x="494.41" y="717.40" font-size="15.80" font-weight="bold" fill="#231815" stroke="#231815" stroke-width="0.20" textLength="19.88" lengthAdjust="spacingAndGlyphs">C7</text>
<text x="494.42" y="831.10" font-size="15.80" font-weight="bold" fill="#231815" stroke="#231815" stroke-width="0.20" textLength="19.67" lengthAdjust="spacingAndGlyphs">C8</text>
<text x="494.41" y="941.70" font-size="15.80" font-weight="bold" fill="#231815" stroke="#231815" stroke-width="0.20" textLength="19.77" lengthAdjust="spacingAndGlyphs">C9</text>
<text x="87.10" y="16.70" font-size="16.40" font-weight="bold" fill="#1d3ff2" textLength="131.04" lengthAdjust="spacing">Mouse 1 Ch.05 P1</text>
<text x="330.90" y="16.70" font-size="16.40" font-weight="bold" fill="#1d3ff2" textLength="133.24" lengthAdjust="spacing">Mouse 1 Ch.05 P2</text>
<text x="576.30" y="16.70" font-size="16.40" font-weight="bold" fill="#1d3ff2" textLength="125.23" lengthAdjust="spacing">Mouse 1 Ch.05 D</text>
<text x="87.20" y="363.50" font-size="16.40" font-weight="bold" fill="#e60012" textLength="131.74" lengthAdjust="spacing">Mouse 1 Ch.20 P1</text>
<text x="330.90" y="362.40" font-size="16.40" font-weight="bold" fill="#e60012" textLength="133.24" lengthAdjust="spacing">Mouse 1 Ch.20 P2</text>
<text x="576.30" y="363.50" font-size="16.40" font-weight="bold" fill="#e60012" textLength="120.67" lengthAdjust="spacing">Mouse1 Ch.20 D</text>
<text x="87.20" y="716.30" font-size="16.40" font-weight="bold" fill="#00a0e9" textLength="131.74" lengthAdjust="spacing">Mouse 2 Ch.10 P1</text>
<text x="330.90" y="716.30" font-size="16.40" font-weight="bold" fill="#00a0e9" textLength="133.24" lengthAdjust="spacing">Mouse 2 Ch.10 P2</text>
<text x="576.30" y="714.10" font-size="16.40" font-weight="bold" fill="#00a0e9" textLength="125.23" lengthAdjust="spacing">Mouse 2 Ch.10 D</text>
<text transform="translate(12.90 99.70) rotate(-90)" x="0" y="0" font-size="12.90" font-weight="bold" fill="#231815" textLength="64.39" lengthAdjust="spacingAndGlyphs">Bin=3600s</text>
<text transform="translate(13.70 212.30) rotate(-90)" x="0" y="0" font-size="12.90" font-weight="bold" fill="#231815" textLength="56.91" lengthAdjust="spacingAndGlyphs">Bin=300s</text>
<text transform="translate(14.10 442.60) rotate(-90)" x="0" y="0" font-size="12.90" font-weight="bold" fill="#231815" textLength="63.88" lengthAdjust="spacingAndGlyphs">Bin=3600s</text>
<text transform="translate(14.50 554.70) rotate(-90)" x="0" y="0" font-size="12.90" font-weight="bold" fill="#231815" textLength="63.16" lengthAdjust="spacingAndGlyphs">Bin=300s</text>
<text transform="translate(26.60 794.13) rotate(-90)" x="0" y="0" font-size="12.90" font-weight="bold" fill="#231815" textLength="66.33" lengthAdjust="spacingAndGlyphs">Bin=3600s</text>
<text transform="translate(27.30 905.84) rotate(-90)" x="0" y="0" font-size="12.90" font-weight="bold" fill="#231815" textLength="59.78" lengthAdjust="spacingAndGlyphs">Bin=300s</text>
</svg>
</body></html>
